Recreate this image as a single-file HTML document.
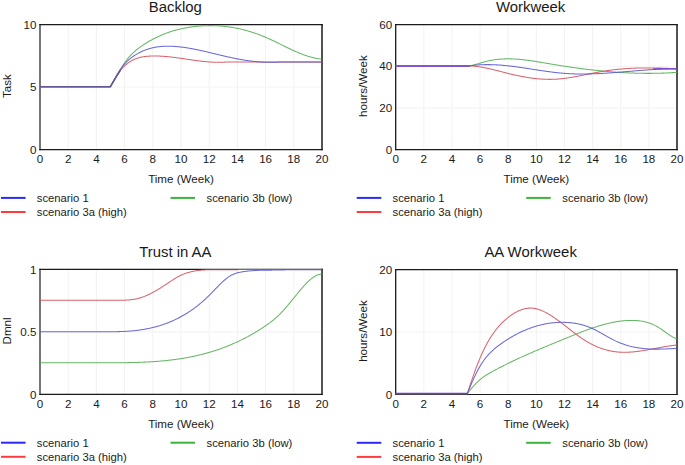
<!DOCTYPE html>
<html><head><meta charset="utf-8"><style>
html,body{margin:0;padding:0;background:#fff;}
svg{display:block;font-family:"Liberation Sans", sans-serif;}
text{stroke:none;}
</style></head><body>
<svg width="685" height="465" viewBox="0 0 685 465">
<rect width="685" height="465" fill="#fff"/>
<g stroke="#f3f3f3" stroke-width="1.1"><line x1="68.20" y1="24.55" x2="68.20" y2="149.6"/><line x1="96.40" y1="24.55" x2="96.40" y2="149.6"/><line x1="124.60" y1="24.55" x2="124.60" y2="149.6"/><line x1="152.80" y1="24.55" x2="152.80" y2="149.6"/><line x1="181.00" y1="24.55" x2="181.00" y2="149.6"/><line x1="209.20" y1="24.55" x2="209.20" y2="149.6"/><line x1="237.40" y1="24.55" x2="237.40" y2="149.6"/><line x1="265.60" y1="24.55" x2="265.60" y2="149.6"/><line x1="293.80" y1="24.55" x2="293.80" y2="149.6"/><line x1="40" y1="87.07" x2="322" y2="87.07"/></g>
<g stroke="#1a1a1a"><line x1="40" y1="23.95" x2="40" y2="150.2" stroke-width="1.2"/><line x1="322" y1="23.95" x2="322" y2="150.2" stroke-width="1.5"/><line x1="39.3" y1="24.55" x2="322.75" y2="24.55" stroke-width="1.2"/><line x1="39.3" y1="149.6" x2="322.75" y2="149.6" stroke-width="1.2"/></g>
<path d="M40,86.7 L110.4,86.7 L110.40,86.70 L110.93,85.84 L111.46,84.96 L111.99,84.07 L112.52,83.17 L113.04,82.27 L113.57,81.36 L114.10,80.44 L114.63,79.51 L115.16,78.59 L115.69,77.66 L116.22,76.73 L116.75,75.80 L117.27,74.87 L117.80,73.94 L118.33,73.02 L118.86,72.10 L119.39,71.19 L119.92,70.29 L120.45,69.40 L120.98,68.52 L121.51,67.65 L122.03,66.79 L122.56,65.95 L123.09,65.12 L123.62,64.31 L124.15,63.52 L124.68,62.74 L125.21,61.99 L125.74,61.26 L126.26,60.54 L126.79,59.85 L127.32,59.17 L127.85,58.51 L128.38,57.87 L128.91,57.25 L129.44,56.64 L129.97,56.05 L130.50,55.47 L131.02,54.91 L131.55,54.36 L132.08,53.83 L132.61,53.31 L133.14,52.80 L133.67,52.31 L134.20,51.83 L134.73,51.35 L135.25,50.90 L135.78,50.45 L136.31,50.01 L136.84,49.58 L137.37,49.16 L137.90,48.75 L138.43,48.34 L138.96,47.95 L139.49,47.56 L140.01,47.18 L140.54,46.80 L141.07,46.43 L141.60,46.06 L142.13,45.70 L142.66,45.35 L143.19,45.00 L143.72,44.65 L144.24,44.30 L144.77,43.96 L145.30,43.63 L145.83,43.29 L146.36,42.97 L146.89,42.64 L147.42,42.32 L147.95,42.00 L148.48,41.69 L149.00,41.38 L149.53,41.07 L150.06,40.77 L150.59,40.47 L151.12,40.18 L151.65,39.89 L152.18,39.60 L152.71,39.31 L153.23,39.03 L153.76,38.76 L154.29,38.48 L154.82,38.21 L155.35,37.95 L155.88,37.68 L156.41,37.42 L156.94,37.17 L157.47,36.92 L157.99,36.67 L158.52,36.42 L159.05,36.18 L159.58,35.94 L160.11,35.70 L160.64,35.47 L161.17,35.24 L161.70,35.02 L162.22,34.79 L162.75,34.57 L163.28,34.36 L163.81,34.15 L164.34,33.94 L164.87,33.73 L165.40,33.53 L165.93,33.32 L166.46,33.13 L166.98,32.93 L167.51,32.74 L168.04,32.55 L168.57,32.37 L169.10,32.19 L169.63,32.01 L170.16,31.83 L170.69,31.66 L171.21,31.49 L171.74,31.32 L172.27,31.15 L172.80,30.99 L173.33,30.83 L173.86,30.68 L174.39,30.52 L174.92,30.37 L175.45,30.22 L175.97,30.08 L176.50,29.94 L177.03,29.80 L177.56,29.66 L178.09,29.52 L178.62,29.39 L179.15,29.26 L179.68,29.14 L180.20,29.01 L180.73,28.89 L181.26,28.77 L181.79,28.65 L182.32,28.54 L182.85,28.43 L183.38,28.32 L183.91,28.21 L184.44,28.11 L184.96,28.01 L185.49,27.91 L186.02,27.81 L186.55,27.71 L187.08,27.62 L187.61,27.53 L188.14,27.44 L188.67,27.36 L189.19,27.27 L189.72,27.19 L190.25,27.11 L190.78,27.03 L191.31,26.96 L191.84,26.89 L192.37,26.81 L192.90,26.75 L193.43,26.68 L193.95,26.61 L194.48,26.55 L195.01,26.49 L195.54,26.43 L196.07,26.38 L196.60,26.32 L197.13,26.27 L197.66,26.22 L198.18,26.17 L198.71,26.12 L199.24,26.08 L199.77,26.04 L200.30,26.00 L200.83,25.96 L201.36,25.92 L201.89,25.89 L202.42,25.86 L202.94,25.83 L203.47,25.80 L204.00,25.77 L204.53,25.75 L205.06,25.73 L205.59,25.71 L206.12,25.69 L206.65,25.67 L207.17,25.66 L207.70,25.65 L208.23,25.64 L208.76,25.63 L209.29,25.63 L209.82,25.62 L210.35,25.62 L210.88,25.62 L211.41,25.63 L211.93,25.63 L212.46,25.64 L212.99,25.65 L213.52,25.66 L214.05,25.67 L214.58,25.69 L215.11,25.71 L215.64,25.73 L216.16,25.75 L216.69,25.77 L217.22,25.80 L217.75,25.83 L218.28,25.86 L218.81,25.89 L219.34,25.92 L219.87,25.96 L220.39,26.00 L220.92,26.04 L221.45,26.08 L221.98,26.13 L222.51,26.18 L223.04,26.23 L223.57,26.28 L224.10,26.33 L224.63,26.39 L225.15,26.45 L225.68,26.51 L226.21,26.57 L226.74,26.63 L227.27,26.70 L227.80,26.77 L228.33,26.84 L228.86,26.91 L229.38,26.99 L229.91,27.06 L230.44,27.14 L230.97,27.22 L231.50,27.31 L232.03,27.39 L232.56,27.48 L233.09,27.57 L233.62,27.66 L234.14,27.76 L234.67,27.85 L235.20,27.95 L235.73,28.05 L236.26,28.16 L236.79,28.26 L237.32,28.37 L237.85,28.48 L238.37,28.59 L238.90,28.70 L239.43,28.82 L239.96,28.94 L240.49,29.06 L241.02,29.18 L241.55,29.31 L242.08,29.43 L242.61,29.56 L243.13,29.69 L243.66,29.83 L244.19,29.96 L244.72,30.10 L245.25,30.24 L245.78,30.38 L246.31,30.53 L246.84,30.67 L247.36,30.82 L247.89,30.97 L248.42,31.13 L248.95,31.28 L249.48,31.44 L250.01,31.60 L250.54,31.76 L251.07,31.93 L251.60,32.09 L252.12,32.26 L252.65,32.43 L253.18,32.60 L253.71,32.78 L254.24,32.96 L254.77,33.14 L255.30,33.32 L255.83,33.50 L256.35,33.69 L256.88,33.88 L257.41,34.07 L257.94,34.26 L258.47,34.46 L259.00,34.66 L259.53,34.86 L260.06,35.06 L260.59,35.26 L261.11,35.47 L261.64,35.68 L262.17,35.89 L262.70,36.10 L263.23,36.32 L263.76,36.54 L264.29,36.76 L264.82,36.98 L265.34,37.20 L265.87,37.43 L266.40,37.66 L266.93,37.89 L267.46,38.12 L267.99,38.36 L268.52,38.59 L269.05,38.83 L269.58,39.07 L270.10,39.31 L270.63,39.56 L271.16,39.80 L271.69,40.05 L272.22,40.30 L272.75,40.54 L273.28,40.79 L273.81,41.05 L274.33,41.30 L274.86,41.55 L275.39,41.81 L275.92,42.06 L276.45,42.32 L276.98,42.57 L277.51,42.83 L278.04,43.09 L278.57,43.34 L279.09,43.60 L279.62,43.86 L280.15,44.12 L280.68,44.38 L281.21,44.64 L281.74,44.90 L282.27,45.16 L282.80,45.42 L283.32,45.68 L283.85,45.93 L284.38,46.19 L284.91,46.45 L285.44,46.71 L285.97,46.96 L286.50,47.22 L287.03,47.48 L287.56,47.73 L288.08,47.98 L288.61,48.24 L289.14,48.49 L289.67,48.74 L290.20,48.99 L290.73,49.24 L291.26,49.49 L291.79,49.73 L292.31,49.98 L292.84,50.22 L293.37,50.46 L293.90,50.70 L294.43,50.94 L294.96,51.17 L295.49,51.41 L296.02,51.64 L296.55,51.87 L297.07,52.10 L297.60,52.33 L298.13,52.55 L298.66,52.77 L299.19,52.99 L299.72,53.21 L300.25,53.42 L300.78,53.63 L301.30,53.84 L301.83,54.05 L302.36,54.25 L302.89,54.45 L303.42,54.65 L303.95,54.84 L304.48,55.04 L305.01,55.22 L305.54,55.41 L306.06,55.59 L306.59,55.77 L307.12,55.94 L307.65,56.12 L308.18,56.28 L308.71,56.45 L309.24,56.61 L309.77,56.76 L310.29,56.92 L310.82,57.07 L311.35,57.21 L311.88,57.35 L312.41,57.49 L312.94,57.62 L313.47,57.75 L314.00,57.87 L314.53,57.99 L315.05,58.10 L315.58,58.21 L316.11,58.32 L316.64,58.42 L317.17,58.51 L317.70,58.60 L318.23,58.69 L318.76,58.77 L319.28,58.84 L319.81,58.91 L320.34,58.98 L320.87,59.04 L321.40,59.09" fill="none" stroke="#56ae56" stroke-width="1.05" stroke-linejoin="round" opacity="0.9"/>
<path d="M40,86.7 L110.4,86.7 L110.40,86.70 L110.69,86.11 L110.97,85.53 L111.26,84.96 L111.55,84.39 L111.84,83.83 L112.12,83.28 L112.41,82.74 L112.70,82.20 L112.98,81.68 L113.27,81.16 L113.56,80.64 L113.85,80.14 L114.13,79.64 L114.42,79.15 L114.71,78.66 L115.00,78.18 L115.28,77.71 L115.57,77.25 L115.86,76.79 L116.14,76.34 L116.43,75.90 L116.72,75.47 L117.01,75.04 L117.29,74.61 L117.58,74.20 L117.87,73.79 L118.15,73.38 L118.44,72.99 L118.73,72.60 L119.02,72.21 L119.30,71.83 L119.59,71.46 L119.88,71.10 L120.17,70.74 L120.45,70.38 L120.74,70.03 L121.03,69.69 L121.31,69.36 L121.60,69.03 L121.89,68.70 L122.18,68.38 L122.46,68.07 L122.75,67.76 L123.04,67.46 L123.32,67.16 L123.61,66.87 L123.90,66.59 L124.19,66.30 L124.47,66.03 L124.76,65.76 L125.05,65.49 L125.34,65.23 L125.62,64.98 L125.91,64.73 L126.20,64.48 L126.48,64.24 L126.77,64.01 L127.06,63.78 L127.35,63.55 L127.63,63.33 L127.92,63.11 L128.21,62.90 L128.49,62.69 L128.78,62.49 L129.07,62.29 L129.36,62.10 L129.64,61.90 L129.93,61.72 L130.22,61.54 L130.51,61.36 L130.79,61.19 L131.08,61.02 L131.37,60.85 L131.65,60.69 L131.94,60.53 L132.23,60.38 L132.52,60.22 L132.80,60.08 L133.09,59.93 L133.38,59.80 L133.66,59.66 L133.95,59.53 L134.24,59.40 L134.53,59.27 L134.81,59.15 L135.10,59.03 L135.39,58.91 L135.68,58.80 L135.96,58.69 L136.25,58.58 L136.54,58.48 L136.82,58.38 L137.11,58.28 L137.40,58.19 L137.69,58.10 L137.97,58.01 L138.26,57.92 L138.55,57.83 L138.83,57.75 L139.12,57.67 L139.41,57.60 L139.70,57.52 L139.98,57.45 L140.27,57.38 L140.56,57.32 L140.85,57.25 L141.13,57.19 L141.42,57.13 L141.71,57.07 L141.99,57.01 L142.28,56.96 L142.57,56.90 L142.86,56.85 L143.14,56.80 L143.43,56.76 L143.72,56.71 L144.00,56.67 L144.29,56.62 L144.58,56.58 L144.87,56.55 L145.15,56.51 L145.44,56.47 L145.73,56.44 L146.02,56.41 L146.30,56.37 L146.59,56.34 L146.88,56.32 L147.16,56.29 L147.45,56.26 L147.74,56.24 L148.03,56.22 L148.31,56.20 L148.60,56.18 L148.89,56.16 L149.17,56.14 L149.46,56.12 L149.75,56.11 L150.04,56.09 L150.32,56.08 L150.61,56.07 L150.90,56.06 L151.18,56.05 L151.47,56.04 L151.76,56.03 L152.05,56.02 L152.33,56.01 L152.62,56.01 L152.91,56.00 L153.20,56.00 L153.48,55.99 L153.77,55.99 L154.06,55.99 L154.34,55.99 L154.63,55.99 L154.92,55.99 L155.21,55.99 L155.49,55.99 L155.78,56.00 L156.07,56.00 L156.35,56.00 L156.64,56.01 L156.93,56.01 L157.22,56.02 L157.50,56.03 L157.79,56.03 L158.08,56.04 L158.37,56.05 L158.65,56.06 L158.94,56.07 L159.23,56.08 L159.51,56.10 L159.80,56.11 L160.09,56.12 L160.38,56.14 L160.66,56.15 L160.95,56.16 L161.24,56.18 L161.52,56.20 L161.81,56.21 L162.10,56.23 L162.39,56.25 L162.67,56.27 L162.96,56.29 L163.25,56.31 L163.54,56.33 L163.82,56.35 L164.11,56.37 L164.40,56.39 L164.68,56.41 L164.97,56.44 L165.26,56.46 L165.55,56.48 L165.83,56.51 L166.12,56.53 L166.41,56.56 L166.69,56.58 L166.98,56.61 L167.27,56.64 L167.56,56.67 L167.84,56.69 L168.13,56.72 L168.42,56.75 L168.71,56.78 L168.99,56.81 L169.28,56.84 L169.57,56.87 L169.85,56.90 L170.14,56.93 L170.43,56.96 L170.72,56.99 L171.00,57.03 L171.29,57.06 L171.58,57.09 L171.86,57.13 L172.15,57.16 L172.44,57.19 L172.73,57.23 L173.01,57.26 L173.30,57.30 L173.59,57.33 L173.88,57.37 L174.16,57.41 L174.45,57.44 L174.74,57.48 L175.02,57.52 L175.31,57.55 L175.60,57.59 L175.89,57.63 L176.17,57.67 L176.46,57.71 L176.75,57.74 L177.03,57.78 L177.32,57.82 L177.61,57.86 L177.90,57.90 L178.18,57.94 L178.47,57.98 L178.76,58.02 L179.05,58.06 L179.33,58.10 L179.62,58.14 L179.91,58.18 L180.19,58.22 L180.48,58.26 L180.77,58.31 L181.06,58.35 L181.34,58.39 L181.63,58.43 L181.92,58.47 L182.20,58.51 L182.49,58.55 L182.78,58.60 L183.07,58.64 L183.35,58.68 L183.64,58.72 L183.93,58.77 L184.22,58.81 L184.50,58.85 L184.79,58.89 L185.08,58.94 L185.36,58.98 L185.65,59.02 L185.94,59.06 L186.23,59.11 L186.51,59.15 L186.80,59.19 L187.09,59.23 L187.37,59.28 L187.66,59.32 L187.95,59.36 L188.24,59.40 L188.52,59.45 L188.81,59.49 L189.10,59.53 L189.38,59.57 L189.67,59.62 L189.96,59.66 L190.25,59.70 L190.53,59.74 L190.82,59.78 L191.11,59.83 L191.40,59.87 L191.68,59.91 L191.97,59.95 L192.26,59.99 L192.54,60.03 L192.83,60.07 L193.12,60.12 L193.41,60.16 L193.69,60.20 L193.98,60.24 L194.27,60.28 L194.55,60.32 L194.84,60.36 L195.13,60.40 L195.42,60.44 L195.70,60.48 L195.99,60.51 L196.28,60.55 L196.57,60.59 L196.85,60.63 L197.14,60.67 L197.43,60.71 L197.71,60.74 L198.00,60.78 L198.29,60.82 L198.58,60.85 L198.86,60.89 L199.15,60.93 L199.44,60.96 L199.72,61.00 L200.01,61.03 L200.30,61.07 L200.59,61.10 L200.87,61.14 L201.16,61.17 L201.45,61.20 L201.74,61.24 L202.02,61.27 L202.31,61.30 L202.60,61.33 L202.88,61.37 L203.17,61.40 L203.46,61.43 L203.75,61.46 L204.03,61.49 L204.32,61.52 L204.61,61.55 L204.89,61.58 L205.18,61.60 L205.47,61.63 L205.76,61.66 L206.04,61.69 L206.33,61.71 L206.62,61.74 L206.91,61.76 L207.19,61.79 L207.48,61.81 L207.77,61.84 L208.05,61.86 L208.34,61.88 L208.63,61.91 L208.92,61.93 L209.20,61.95 L209.49,61.97 L209.78,61.99 L210.06,62.01 L210.35,62.03 L210.64,62.05 L210.93,62.07 L211.21,62.08 L211.50,62.10 L211.79,62.12 L212.08,62.13 L212.36,62.15 L212.65,62.16 L212.94,62.17 L213.22,62.19 L213.51,62.20 L213.80,62.21 L214.09,62.22 L214.37,62.23 L214.66,62.24 L214.95,62.25 L215.23,62.26 L215.52,62.27 L215.81,62.28 L216.10,62.28 L216.38,62.29 L216.67,62.29 L216.96,62.30 L217.25,62.30 L217.53,62.30 L217.82,62.30 L218.11,62.31 L218.39,62.31 L218.68,62.31 L218.97,62.31 L219.26,62.30 L219.54,62.30 L219.83,62.30 L220.12,62.29 L220.40,62.29 L220.69,62.28 L220.98,62.28 L221.27,62.27 L221.55,62.26 L221.84,62.25 L222.13,62.24 L222.42,62.23 L222.70,62.22 L222.99,62.20 L223.28,62.19 L223.56,62.18 L223.85,62.16 L224.14,62.15 L224.43,62.13 L224.71,62.11 L225.00,62.09 L321.4,62.0" fill="none" stroke="#d6525c" stroke-width="1.05" stroke-linejoin="round" opacity="0.9"/>
<path d="M40,86.7 L110.4,86.7 L110.40,86.70 L110.83,86.00 L111.25,85.29 L111.68,84.57 L112.10,83.84 L112.53,83.11 L112.95,82.36 L113.38,81.61 L113.80,80.85 L114.23,80.10 L114.65,79.34 L115.08,78.57 L115.50,77.82 L115.93,77.06 L116.35,76.30 L116.78,75.55 L117.20,74.81 L117.63,74.08 L118.05,73.35 L118.48,72.63 L118.90,71.93 L119.33,71.24 L119.75,70.56 L120.18,69.90 L120.60,69.25 L121.03,68.62 L121.45,68.01 L121.88,67.42 L122.30,66.84 L122.73,66.28 L123.15,65.73 L123.58,65.20 L124.00,64.69 L124.43,64.19 L124.85,63.70 L125.28,63.23 L125.70,62.77 L126.13,62.32 L126.55,61.88 L126.98,61.46 L127.40,61.05 L127.83,60.65 L128.25,60.26 L128.68,59.88 L129.10,59.51 L129.53,59.15 L129.95,58.80 L130.38,58.46 L130.80,58.13 L131.23,57.80 L131.65,57.48 L132.08,57.17 L132.50,56.87 L132.93,56.57 L133.35,56.28 L133.78,55.99 L134.20,55.71 L134.63,55.43 L135.05,55.16 L135.48,54.89 L135.90,54.63 L136.33,54.37 L136.75,54.12 L137.18,53.87 L137.60,53.63 L138.03,53.39 L138.45,53.16 L138.88,52.93 L139.30,52.71 L139.73,52.49 L140.15,52.27 L140.58,52.06 L141.00,51.85 L141.43,51.65 L141.85,51.45 L142.28,51.26 L142.70,51.07 L143.13,50.89 L143.55,50.71 L143.98,50.53 L144.41,50.36 L144.83,50.19 L145.26,50.03 L145.68,49.87 L146.11,49.71 L146.53,49.56 L146.96,49.41 L147.38,49.27 L147.81,49.13 L148.23,48.99 L148.66,48.86 L149.08,48.73 L149.51,48.60 L149.93,48.48 L150.36,48.36 L150.78,48.25 L151.21,48.14 L151.63,48.03 L152.06,47.93 L152.48,47.83 L152.91,47.73 L153.33,47.64 L153.76,47.54 L154.18,47.46 L154.61,47.37 L155.03,47.29 L155.46,47.22 L155.88,47.14 L156.31,47.07 L156.73,47.00 L157.16,46.94 L157.58,46.87 L158.01,46.82 L158.43,46.76 L158.86,46.71 L159.28,46.65 L159.71,46.61 L160.13,46.56 L160.56,46.52 L160.98,46.48 L161.41,46.44 L161.83,46.41 L162.26,46.38 L162.68,46.35 L163.11,46.32 L163.53,46.30 L163.96,46.28 L164.38,46.26 L164.81,46.24 L165.23,46.22 L165.66,46.21 L166.08,46.20 L166.51,46.19 L166.93,46.19 L167.36,46.18 L167.78,46.18 L168.21,46.18 L168.63,46.19 L169.06,46.19 L169.48,46.20 L169.91,46.21 L170.33,46.22 L170.76,46.23 L171.18,46.24 L171.61,46.26 L172.03,46.28 L172.46,46.29 L172.88,46.32 L173.31,46.34 L173.73,46.36 L174.16,46.39 L174.58,46.42 L175.01,46.44 L175.43,46.47 L175.86,46.51 L176.28,46.54 L176.71,46.58 L177.13,46.61 L177.56,46.65 L177.98,46.69 L178.41,46.73 L178.84,46.77 L179.26,46.82 L179.69,46.86 L180.11,46.91 L180.54,46.96 L180.96,47.01 L181.39,47.06 L181.81,47.11 L182.24,47.16 L182.66,47.22 L183.09,47.27 L183.51,47.33 L183.94,47.39 L184.36,47.45 L184.79,47.51 L185.21,47.57 L185.64,47.63 L186.06,47.70 L186.49,47.76 L186.91,47.83 L187.34,47.90 L187.76,47.96 L188.19,48.03 L188.61,48.11 L189.04,48.18 L189.46,48.25 L189.89,48.32 L190.31,48.40 L190.74,48.47 L191.16,48.55 L191.59,48.63 L192.01,48.71 L192.44,48.79 L192.86,48.87 L193.29,48.95 L193.71,49.03 L194.14,49.11 L194.56,49.20 L194.99,49.28 L195.41,49.37 L195.84,49.45 L196.26,49.54 L196.69,49.63 L197.11,49.71 L197.54,49.80 L197.96,49.89 L198.39,49.98 L198.81,50.07 L199.24,50.16 L199.66,50.26 L200.09,50.35 L200.51,50.44 L200.94,50.54 L201.36,50.63 L201.79,50.73 L202.21,50.82 L202.64,50.92 L203.06,51.01 L203.49,51.11 L203.91,51.21 L204.34,51.30 L204.76,51.40 L205.19,51.50 L205.61,51.60 L206.04,51.70 L206.46,51.80 L206.89,51.90 L207.31,52.00 L207.74,52.10 L208.16,52.20 L208.59,52.30 L209.01,52.40 L209.44,52.50 L209.86,52.61 L210.29,52.71 L210.71,52.81 L211.14,52.91 L211.56,53.01 L211.99,53.12 L212.42,53.22 L212.84,53.32 L213.27,53.43 L213.69,53.53 L214.12,53.63 L214.54,53.73 L214.97,53.84 L215.39,53.94 L215.82,54.04 L216.24,54.15 L216.67,54.25 L217.09,54.35 L217.52,54.45 L217.94,54.56 L218.37,54.66 L218.79,54.76 L219.22,54.86 L219.64,54.97 L220.07,55.07 L220.49,55.17 L220.92,55.27 L221.34,55.37 L221.77,55.47 L222.19,55.57 L222.62,55.67 L223.04,55.77 L223.47,55.87 L223.89,55.97 L224.32,56.07 L224.74,56.17 L225.17,56.27 L225.59,56.37 L226.02,56.46 L226.44,56.56 L226.87,56.66 L227.29,56.75 L227.72,56.85 L228.14,56.94 L228.57,57.04 L228.99,57.13 L229.42,57.23 L229.84,57.32 L230.27,57.41 L230.69,57.50 L231.12,57.59 L231.54,57.68 L231.97,57.77 L232.39,57.86 L232.82,57.95 L233.24,58.04 L233.67,58.13 L234.09,58.21 L234.52,58.30 L234.94,58.38 L235.37,58.47 L235.79,58.55 L236.22,58.64 L236.64,58.72 L237.07,58.80 L237.49,58.88 L237.92,58.96 L238.34,59.04 L238.77,59.12 L239.19,59.20 L239.62,59.28 L240.04,59.35 L240.47,59.43 L240.89,59.51 L241.32,59.58 L241.74,59.65 L242.17,59.73 L242.59,59.80 L243.02,59.87 L243.44,59.94 L243.87,60.01 L244.29,60.08 L244.72,60.15 L245.14,60.21 L245.57,60.28 L245.99,60.35 L246.42,60.41 L246.85,60.47 L247.27,60.54 L247.70,60.60 L248.12,60.66 L248.55,60.72 L248.97,60.78 L249.40,60.83 L249.82,60.89 L250.25,60.95 L250.67,61.00 L251.10,61.06 L251.52,61.11 L251.95,61.16 L252.37,61.21 L252.80,61.26 L253.22,61.31 L253.65,61.36 L254.07,61.41 L254.50,61.45 L254.92,61.50 L255.35,61.54 L255.77,61.58 L256.20,61.63 L256.62,61.67 L257.05,61.71 L257.47,61.74 L257.90,61.78 L258.32,61.82 L258.75,61.85 L259.17,61.89 L259.60,61.92 L260.02,61.95 L260.45,61.98 L260.87,62.01 L261.30,62.04 L261.72,62.07 L262.15,62.09 L262.57,62.12 L263.00,62.14 L263.42,62.16 L263.85,62.18 L264.27,62.20 L264.70,62.22 L265.12,62.24 L265.55,62.25 L265.97,62.27 L266.40,62.28 L266.82,62.29 L267.25,62.30 L267.67,62.31 L268.10,62.32 L268.52,62.33 L268.95,62.33 L269.37,62.34 L269.80,62.34 L270.22,62.34 L270.65,62.34 L271.07,62.34 L271.50,62.34 L271.92,62.33 L272.35,62.33 L272.77,62.32 L273.20,62.31 L273.62,62.30 L274.05,62.29 L274.47,62.28 L274.90,62.26 L275.32,62.25 L275.75,62.23 L276.17,62.21 L276.60,62.19 L277.02,62.17 L277.45,62.15 L277.87,62.13 L278.30,62.10 L278.72,62.07 L279.15,62.04 L279.57,62.01 L280.00,61.98 L321.4,62.0" fill="none" stroke="#5a5ad4" stroke-width="1.05" stroke-linejoin="round" opacity="0.9"/>
<path d="M40,86.7 L110.4,86.7 L115.1,78.6 L120.5,70.0" fill="none" stroke="#65559a" stroke-width="1.5" stroke-linejoin="round"/>
<g font-size="11.6" fill="#1a1a1a"><text x="40.00" y="162.90" text-anchor="middle">0</text><text x="68.20" y="162.90" text-anchor="middle">2</text><text x="96.40" y="162.90" text-anchor="middle">4</text><text x="124.60" y="162.90" text-anchor="middle">6</text><text x="152.80" y="162.90" text-anchor="middle">8</text><text x="181.00" y="162.90" text-anchor="middle">10</text><text x="209.20" y="162.90" text-anchor="middle">12</text><text x="237.40" y="162.90" text-anchor="middle">14</text><text x="265.60" y="162.90" text-anchor="middle">16</text><text x="293.80" y="162.90" text-anchor="middle">18</text><text x="322.00" y="162.90" text-anchor="middle">20</text><text x="36.40" y="153.80" text-anchor="end">0</text><text x="36.40" y="91.27" text-anchor="end">5</text><text x="36.40" y="28.75" text-anchor="end">10</text></g>
<text x="181.00" y="182.90" text-anchor="middle" font-size="11.6" fill="#1a1a1a">Time (Week)</text>
<text transform="translate(11.20,86.08) rotate(-90)" text-anchor="middle" font-size="11.6" fill="#1a1a1a">Task</text>
<text x="175.30" y="11.95" text-anchor="middle" font-size="14.9" fill="#1a1a1a">Backlog</text>
<g font-size="11.25" fill="#1a1a1a"><line x1="1.00" y1="197.90" x2="25.60" y2="197.90" stroke="#2a2aff" stroke-width="2"/><line x1="1.00" y1="212.00" x2="25.60" y2="212.00" stroke="#ff3c3c" stroke-width="2"/><line x1="170.50" y1="197.90" x2="195.00" y2="197.90" stroke="#3cb43c" stroke-width="2"/><text x="36.80" y="202.10">scenario 1</text><text x="36.80" y="216.20">scenario 3a (high)</text><text x="206.60" y="202.10">scenario 3b (low)</text></g>
<g stroke="#f3f3f3" stroke-width="1.1"><line x1="423.83" y1="24.55" x2="423.83" y2="149.6"/><line x1="451.96" y1="24.55" x2="451.96" y2="149.6"/><line x1="480.09" y1="24.55" x2="480.09" y2="149.6"/><line x1="508.22" y1="24.55" x2="508.22" y2="149.6"/><line x1="536.35" y1="24.55" x2="536.35" y2="149.6"/><line x1="564.48" y1="24.55" x2="564.48" y2="149.6"/><line x1="592.61" y1="24.55" x2="592.61" y2="149.6"/><line x1="620.74" y1="24.55" x2="620.74" y2="149.6"/><line x1="648.87" y1="24.55" x2="648.87" y2="149.6"/><line x1="395.7" y1="107.92" x2="677" y2="107.92"/><line x1="395.7" y1="66.23" x2="677" y2="66.23"/></g>
<g stroke="#1a1a1a"><line x1="395.7" y1="23.95" x2="395.7" y2="150.2" stroke-width="1.3"/><line x1="677" y1="23.95" x2="677" y2="150.2" stroke-width="1.5"/><line x1="395.0" y1="24.55" x2="677.75" y2="24.55" stroke-width="1.2"/><line x1="395.0" y1="149.6" x2="677.75" y2="149.6" stroke-width="1.2"/></g>
<path d="M395.7,65.9 L469.6,65.9 L469.60,65.90 L470.12,65.79 L470.64,65.68 L471.16,65.57 L471.68,65.45 L472.20,65.33 L472.72,65.20 L473.24,65.07 L473.76,64.93 L474.28,64.80 L474.80,64.66 L475.32,64.52 L475.84,64.37 L476.36,64.22 L476.88,64.08 L477.40,63.93 L477.92,63.78 L478.44,63.63 L478.96,63.47 L479.48,63.32 L480.00,63.17 L480.52,63.02 L481.04,62.86 L481.56,62.71 L482.08,62.56 L482.59,62.41 L483.11,62.26 L483.63,62.11 L484.15,61.97 L484.67,61.83 L485.19,61.69 L485.71,61.55 L486.23,61.41 L486.75,61.28 L487.27,61.15 L487.79,61.03 L488.31,60.91 L488.83,60.79 L489.35,60.68 L489.87,60.57 L490.39,60.46 L490.91,60.36 L491.43,60.26 L491.95,60.17 L492.47,60.07 L492.99,59.99 L493.51,59.90 L494.03,59.82 L494.55,59.75 L495.07,59.67 L495.59,59.60 L496.11,59.54 L496.63,59.47 L497.15,59.41 L497.67,59.36 L498.19,59.30 L498.71,59.25 L499.23,59.21 L499.75,59.16 L500.27,59.12 L500.79,59.08 L501.31,59.05 L501.83,59.01 L502.35,58.98 L502.87,58.96 L503.39,58.93 L503.91,58.91 L504.43,58.89 L504.95,58.88 L505.47,58.86 L505.99,58.85 L506.51,58.85 L507.03,58.84 L507.55,58.84 L508.07,58.84 L508.58,58.84 L509.10,58.84 L509.62,58.85 L510.14,58.86 L510.66,58.87 L511.18,58.88 L511.70,58.90 L512.22,58.92 L512.74,58.94 L513.26,58.96 L513.78,58.98 L514.30,59.01 L514.82,59.04 L515.34,59.07 L515.86,59.10 L516.38,59.13 L516.90,59.17 L517.42,59.21 L517.94,59.25 L518.46,59.29 L518.98,59.33 L519.50,59.38 L520.02,59.42 L520.54,59.47 L521.06,59.52 L521.58,59.58 L522.10,59.63 L522.62,59.68 L523.14,59.74 L523.66,59.80 L524.18,59.86 L524.70,59.92 L525.22,59.98 L525.74,60.04 L526.26,60.11 L526.78,60.17 L527.30,60.24 L527.82,60.31 L528.34,60.38 L528.86,60.45 L529.38,60.52 L529.90,60.59 L530.42,60.67 L530.94,60.74 L531.46,60.82 L531.98,60.89 L532.50,60.97 L533.02,61.05 L533.54,61.13 L534.06,61.21 L534.57,61.29 L535.09,61.37 L535.61,61.45 L536.13,61.54 L536.65,61.62 L537.17,61.70 L537.69,61.79 L538.21,61.87 L538.73,61.96 L539.25,62.05 L539.77,62.13 L540.29,62.22 L540.81,62.31 L541.33,62.39 L541.85,62.48 L542.37,62.57 L542.89,62.66 L543.41,62.75 L543.93,62.84 L544.45,62.92 L544.97,63.01 L545.49,63.10 L546.01,63.19 L546.53,63.28 L547.05,63.37 L547.57,63.46 L548.09,63.55 L548.61,63.64 L549.13,63.72 L549.65,63.81 L550.17,63.90 L550.69,63.99 L551.21,64.08 L551.73,64.16 L552.25,64.25 L552.77,64.34 L553.29,64.42 L553.81,64.51 L554.33,64.59 L554.85,64.68 L555.37,64.76 L555.89,64.85 L556.41,64.93 L556.93,65.02 L557.45,65.10 L557.97,65.19 L558.49,65.27 L559.01,65.35 L559.53,65.44 L560.05,65.52 L560.56,65.60 L561.08,65.68 L561.60,65.76 L562.12,65.84 L562.64,65.93 L563.16,66.01 L563.68,66.09 L564.20,66.17 L564.72,66.25 L565.24,66.33 L565.76,66.40 L566.28,66.48 L566.80,66.56 L567.32,66.64 L567.84,66.72 L568.36,66.79 L568.88,66.87 L569.40,66.95 L569.92,67.02 L570.44,67.10 L570.96,67.18 L571.48,67.25 L572.00,67.33 L572.52,67.40 L573.04,67.47 L573.56,67.55 L574.08,67.62 L574.60,67.70 L575.12,67.77 L575.64,67.84 L576.16,67.91 L576.68,67.98 L577.20,68.06 L577.72,68.13 L578.24,68.20 L578.76,68.27 L579.28,68.34 L579.80,68.41 L580.32,68.47 L580.84,68.54 L581.36,68.61 L581.88,68.68 L582.40,68.75 L582.92,68.81 L583.44,68.88 L583.96,68.95 L584.48,69.01 L585.00,69.08 L585.52,69.14 L586.04,69.21 L586.55,69.27 L587.07,69.33 L587.59,69.40 L588.11,69.46 L588.63,69.52 L589.15,69.59 L589.67,69.65 L590.19,69.71 L590.71,69.77 L591.23,69.83 L591.75,69.89 L592.27,69.95 L592.79,70.01 L593.31,70.07 L593.83,70.12 L594.35,70.18 L594.87,70.24 L595.39,70.30 L595.91,70.35 L596.43,70.41 L596.95,70.46 L597.47,70.52 L597.99,70.57 L598.51,70.63 L599.03,70.68 L599.55,70.73 L600.07,70.79 L600.59,70.84 L601.11,70.89 L601.63,70.94 L602.15,70.99 L602.67,71.04 L603.19,71.09 L603.71,71.14 L604.23,71.19 L604.75,71.24 L605.27,71.29 L605.79,71.34 L606.31,71.38 L606.83,71.43 L607.35,71.47 L607.87,71.52 L608.39,71.57 L608.91,71.61 L609.43,71.65 L609.95,71.70 L610.47,71.74 L610.99,71.78 L611.51,71.82 L612.03,71.87 L612.54,71.91 L613.06,71.95 L613.58,71.99 L614.10,72.03 L614.62,72.07 L615.14,72.10 L615.66,72.14 L616.18,72.18 L616.70,72.22 L617.22,72.25 L617.74,72.29 L618.26,72.32 L618.78,72.36 L619.30,72.39 L619.82,72.42 L620.34,72.46 L620.86,72.49 L621.38,72.52 L621.90,72.55 L622.42,72.58 L622.94,72.61 L623.46,72.64 L623.98,72.67 L624.50,72.70 L625.02,72.73 L625.54,72.76 L626.06,72.78 L626.58,72.81 L627.10,72.84 L627.62,72.86 L628.14,72.88 L628.66,72.91 L629.18,72.93 L629.70,72.95 L630.22,72.98 L630.74,73.00 L631.26,73.02 L631.78,73.04 L632.30,73.06 L632.82,73.08 L633.34,73.10 L633.86,73.12 L634.38,73.13 L634.90,73.15 L635.42,73.17 L635.94,73.18 L636.46,73.20 L636.98,73.21 L637.50,73.23 L638.02,73.24 L638.53,73.25 L639.05,73.26 L639.57,73.27 L640.09,73.28 L640.61,73.29 L641.13,73.30 L641.65,73.31 L642.17,73.32 L642.69,73.33 L643.21,73.34 L643.73,73.34 L644.25,73.35 L644.77,73.35 L645.29,73.36 L645.81,73.36 L646.33,73.36 L646.85,73.37 L647.37,73.37 L647.89,73.37 L648.41,73.37 L648.93,73.37 L649.45,73.37 L649.97,73.37 L650.49,73.36 L651.01,73.36 L651.53,73.36 L652.05,73.35 L652.57,73.35 L653.09,73.34 L653.61,73.34 L654.13,73.33 L654.65,73.32 L655.17,73.31 L655.69,73.30 L656.21,73.30 L656.73,73.28 L657.25,73.27 L657.77,73.26 L658.29,73.25 L658.81,73.24 L659.33,73.22 L659.85,73.21 L660.37,73.19 L660.89,73.18 L661.41,73.16 L661.93,73.14 L662.45,73.12 L662.97,73.11 L663.49,73.09 L664.01,73.07 L664.52,73.05 L665.04,73.02 L665.56,73.00 L666.08,72.98 L666.60,72.95 L667.12,72.93 L667.64,72.90 L668.16,72.88 L668.68,72.85 L669.20,72.82 L669.72,72.80 L670.24,72.77 L670.76,72.74 L671.28,72.71 L671.80,72.67 L672.32,72.64 L672.84,72.61 L673.36,72.58 L673.88,72.54 L674.40,72.51 L674.92,72.47 L675.44,72.43 L675.96,72.40 L676.48,72.36 L677.00,72.32" fill="none" stroke="#56ae56" stroke-width="1.05" stroke-linejoin="round" opacity="0.9"/>
<path d="M395.7,65.9 L469.6,65.9 L469.60,65.90 L470.12,65.92 L470.64,65.94 L471.16,65.96 L471.68,65.99 L472.20,66.03 L472.72,66.06 L473.24,66.10 L473.76,66.15 L474.28,66.19 L474.80,66.24 L475.32,66.30 L475.84,66.35 L476.36,66.41 L476.88,66.48 L477.40,66.54 L477.92,66.61 L478.44,66.68 L478.96,66.76 L479.48,66.83 L480.00,66.91 L480.52,67.00 L481.04,67.08 L481.56,67.17 L482.08,67.26 L482.59,67.35 L483.11,67.44 L483.63,67.54 L484.15,67.64 L484.67,67.74 L485.19,67.84 L485.71,67.95 L486.23,68.05 L486.75,68.16 L487.27,68.27 L487.79,68.38 L488.31,68.50 L488.83,68.61 L489.35,68.73 L489.87,68.85 L490.39,68.96 L490.91,69.09 L491.43,69.21 L491.95,69.33 L492.47,69.46 L492.99,69.58 L493.51,69.71 L494.03,69.83 L494.55,69.96 L495.07,70.09 L495.59,70.22 L496.11,70.35 L496.63,70.48 L497.15,70.61 L497.67,70.75 L498.19,70.88 L498.71,71.01 L499.23,71.14 L499.75,71.28 L500.27,71.41 L500.79,71.55 L501.31,71.68 L501.83,71.81 L502.35,71.95 L502.87,72.08 L503.39,72.21 L503.91,72.35 L504.43,72.48 L504.95,72.61 L505.47,72.74 L505.99,72.88 L506.51,73.01 L507.03,73.14 L507.55,73.27 L508.07,73.40 L508.58,73.52 L509.10,73.65 L509.62,73.78 L510.14,73.90 L510.66,74.03 L511.18,74.15 L511.70,74.27 L512.22,74.40 L512.74,74.52 L513.26,74.64 L513.78,74.75 L514.30,74.87 L514.82,74.99 L515.34,75.10 L515.86,75.22 L516.38,75.33 L516.90,75.44 L517.42,75.56 L517.94,75.66 L518.46,75.77 L518.98,75.88 L519.50,75.99 L520.02,76.09 L520.54,76.20 L521.06,76.30 L521.58,76.40 L522.10,76.50 L522.62,76.60 L523.14,76.69 L523.66,76.79 L524.18,76.88 L524.70,76.98 L525.22,77.07 L525.74,77.16 L526.26,77.25 L526.78,77.33 L527.30,77.42 L527.82,77.50 L528.34,77.58 L528.86,77.66 L529.38,77.74 L529.90,77.82 L530.42,77.90 L530.94,77.97 L531.46,78.04 L531.98,78.11 L532.50,78.18 L533.02,78.25 L533.54,78.31 L534.06,78.38 L534.57,78.44 L535.09,78.50 L535.61,78.56 L536.13,78.61 L536.65,78.67 L537.17,78.72 L537.69,78.77 L538.21,78.82 L538.73,78.87 L539.25,78.91 L539.77,78.95 L540.29,78.99 L540.81,79.03 L541.33,79.07 L541.85,79.10 L542.37,79.14 L542.89,79.17 L543.41,79.20 L543.93,79.22 L544.45,79.24 L544.97,79.27 L545.49,79.29 L546.01,79.30 L546.53,79.32 L547.05,79.33 L547.57,79.34 L548.09,79.35 L548.61,79.35 L549.13,79.36 L549.65,79.36 L550.17,79.36 L550.69,79.35 L551.21,79.35 L551.73,79.34 L552.25,79.33 L552.77,79.31 L553.29,79.30 L553.81,79.28 L554.33,79.26 L554.85,79.23 L555.37,79.21 L555.89,79.18 L556.41,79.15 L556.93,79.11 L557.45,79.08 L557.97,79.04 L558.49,79.00 L559.01,78.95 L559.53,78.91 L560.05,78.86 L560.56,78.81 L561.08,78.76 L561.60,78.70 L562.12,78.64 L562.64,78.59 L563.16,78.53 L563.68,78.46 L564.20,78.40 L564.72,78.33 L565.24,78.26 L565.76,78.19 L566.28,78.12 L566.80,78.05 L567.32,77.98 L567.84,77.90 L568.36,77.82 L568.88,77.74 L569.40,77.66 L569.92,77.58 L570.44,77.49 L570.96,77.41 L571.48,77.32 L572.00,77.24 L572.52,77.15 L573.04,77.06 L573.56,76.96 L574.08,76.87 L574.60,76.78 L575.12,76.68 L575.64,76.59 L576.16,76.49 L576.68,76.40 L577.20,76.30 L577.72,76.20 L578.24,76.10 L578.76,76.00 L579.28,75.90 L579.80,75.80 L580.32,75.69 L580.84,75.59 L581.36,75.49 L581.88,75.39 L582.40,75.28 L582.92,75.18 L583.44,75.07 L583.96,74.97 L584.48,74.86 L585.00,74.76 L585.52,74.65 L586.04,74.54 L586.55,74.44 L587.07,74.33 L587.59,74.23 L588.11,74.12 L588.63,74.01 L589.15,73.91 L589.67,73.80 L590.19,73.70 L590.71,73.59 L591.23,73.49 L591.75,73.38 L592.27,73.28 L592.79,73.18 L593.31,73.07 L593.83,72.97 L594.35,72.87 L594.87,72.77 L595.39,72.66 L595.91,72.56 L596.43,72.46 L596.95,72.37 L597.47,72.27 L597.99,72.17 L598.51,72.07 L599.03,71.98 L599.55,71.88 L600.07,71.79 L600.59,71.70 L601.11,71.61 L601.63,71.52 L602.15,71.43 L602.67,71.34 L603.19,71.25 L603.71,71.17 L604.23,71.08 L604.75,71.00 L605.27,70.92 L605.79,70.84 L606.31,70.76 L606.83,70.68 L607.35,70.61 L607.87,70.53 L608.39,70.46 L608.91,70.38 L609.43,70.31 L609.95,70.24 L610.47,70.17 L610.99,70.11 L611.51,70.04 L612.03,69.97 L612.54,69.91 L613.06,69.85 L613.58,69.78 L614.10,69.72 L614.62,69.66 L615.14,69.60 L615.66,69.55 L616.18,69.49 L616.70,69.43 L617.22,69.38 L617.74,69.33 L618.26,69.28 L618.78,69.22 L619.30,69.18 L619.82,69.13 L620.34,69.08 L620.86,69.03 L621.38,68.99 L621.90,68.94 L622.42,68.90 L622.94,68.86 L623.46,68.81 L623.98,68.77 L624.50,68.74 L625.02,68.70 L625.54,68.66 L626.06,68.62 L626.58,68.59 L627.10,68.55 L627.62,68.52 L628.14,68.49 L628.66,68.46 L629.18,68.43 L629.70,68.40 L630.22,68.37 L630.74,68.34 L631.26,68.31 L631.78,68.29 L632.30,68.26 L632.82,68.24 L633.34,68.22 L633.86,68.19 L634.38,68.17 L634.90,68.15 L635.42,68.13 L635.94,68.11 L636.46,68.10 L636.98,68.08 L637.50,68.06 L638.02,68.05 L638.53,68.03 L639.05,68.02 L639.57,68.01 L640.09,68.00 L640.61,67.99 L641.13,67.98 L641.65,67.97 L642.17,67.96 L642.69,67.95 L643.21,67.94 L643.73,67.94 L644.25,67.93 L644.77,67.93 L645.29,67.92 L645.81,67.92 L646.33,67.92 L646.85,67.91 L647.37,67.91 L647.89,67.91 L648.41,67.91 L648.93,67.91 L649.45,67.92 L649.97,67.92 L650.49,67.92 L651.01,67.93 L651.53,67.93 L652.05,67.94 L652.57,67.94 L653.09,67.95 L653.61,67.96 L654.13,67.96 L654.65,67.97 L655.17,67.98 L655.69,67.99 L656.21,68.00 L656.73,68.01 L657.25,68.02 L657.77,68.04 L658.29,68.05 L658.81,68.06 L659.33,68.08 L659.85,68.09 L660.37,68.11 L660.89,68.12 L661.41,68.14 L661.93,68.15 L662.45,68.17 L662.97,68.19 L663.49,68.21 L664.01,68.23 L664.52,68.24 L665.04,68.26 L665.56,68.29 L666.08,68.31 L666.60,68.33 L667.12,68.35 L667.64,68.37 L668.16,68.39 L668.68,68.42 L669.20,68.44 L669.72,68.46 L670.24,68.49 L670.76,68.51 L671.28,68.54 L671.80,68.56 L672.32,68.59 L672.84,68.62 L673.36,68.64 L673.88,68.67 L674.40,68.70 L674.92,68.73 L675.44,68.76 L675.96,68.78 L676.48,68.81 L677.00,68.84" fill="none" stroke="#d6525c" stroke-width="1.05" stroke-linejoin="round" opacity="0.9"/>
<path d="M395.7,65.9 L469.6,65.9 L469.60,65.90 L470.12,65.82 L470.64,65.75 L471.16,65.67 L471.68,65.60 L472.20,65.54 L472.72,65.47 L473.24,65.41 L473.76,65.35 L474.28,65.29 L474.80,65.24 L475.32,65.19 L475.84,65.14 L476.36,65.09 L476.88,65.05 L477.40,65.00 L477.92,64.96 L478.44,64.92 L478.96,64.89 L479.48,64.85 L480.00,64.82 L480.52,64.79 L481.04,64.77 L481.56,64.74 L482.08,64.72 L482.59,64.70 L483.11,64.68 L483.63,64.66 L484.15,64.65 L484.67,64.64 L485.19,64.63 L485.71,64.62 L486.23,64.61 L486.75,64.61 L487.27,64.60 L487.79,64.60 L488.31,64.60 L488.83,64.61 L489.35,64.61 L489.87,64.62 L490.39,64.63 L490.91,64.64 L491.43,64.65 L491.95,64.66 L492.47,64.68 L492.99,64.70 L493.51,64.72 L494.03,64.74 L494.55,64.76 L495.07,64.78 L495.59,64.81 L496.11,64.83 L496.63,64.86 L497.15,64.89 L497.67,64.92 L498.19,64.95 L498.71,64.99 L499.23,65.02 L499.75,65.06 L500.27,65.10 L500.79,65.14 L501.31,65.18 L501.83,65.22 L502.35,65.27 L502.87,65.31 L503.39,65.36 L503.91,65.40 L504.43,65.45 L504.95,65.50 L505.47,65.55 L505.99,65.61 L506.51,65.66 L507.03,65.71 L507.55,65.77 L508.07,65.82 L508.58,65.88 L509.10,65.94 L509.62,66.00 L510.14,66.06 L510.66,66.12 L511.18,66.18 L511.70,66.25 L512.22,66.31 L512.74,66.37 L513.26,66.44 L513.78,66.51 L514.30,66.57 L514.82,66.64 L515.34,66.71 L515.86,66.78 L516.38,66.85 L516.90,66.92 L517.42,66.99 L517.94,67.06 L518.46,67.14 L518.98,67.21 L519.50,67.28 L520.02,67.36 L520.54,67.43 L521.06,67.51 L521.58,67.58 L522.10,67.66 L522.62,67.74 L523.14,67.81 L523.66,67.89 L524.18,67.97 L524.70,68.05 L525.22,68.13 L525.74,68.20 L526.26,68.28 L526.78,68.36 L527.30,68.44 L527.82,68.52 L528.34,68.60 L528.86,68.68 L529.38,68.76 L529.90,68.84 L530.42,68.92 L530.94,69.00 L531.46,69.09 L531.98,69.17 L532.50,69.25 L533.02,69.33 L533.54,69.41 L534.06,69.49 L534.57,69.57 L535.09,69.65 L535.61,69.73 L536.13,69.81 L536.65,69.89 L537.17,69.97 L537.69,70.05 L538.21,70.13 L538.73,70.21 L539.25,70.29 L539.77,70.37 L540.29,70.45 L540.81,70.52 L541.33,70.60 L541.85,70.68 L542.37,70.76 L542.89,70.83 L543.41,70.91 L543.93,70.99 L544.45,71.06 L544.97,71.14 L545.49,71.21 L546.01,71.28 L546.53,71.36 L547.05,71.43 L547.57,71.50 L548.09,71.57 L548.61,71.64 L549.13,71.71 L549.65,71.78 L550.17,71.85 L550.69,71.92 L551.21,71.99 L551.73,72.05 L552.25,72.12 L552.77,72.18 L553.29,72.25 L553.81,72.31 L554.33,72.37 L554.85,72.43 L555.37,72.49 L555.89,72.55 L556.41,72.61 L556.93,72.67 L557.45,72.72 L557.97,72.78 L558.49,72.83 L559.01,72.88 L559.53,72.94 L560.05,72.99 L560.56,73.04 L561.08,73.08 L561.60,73.13 L562.12,73.18 L562.64,73.22 L563.16,73.27 L563.68,73.31 L564.20,73.35 L564.72,73.39 L565.24,73.43 L565.76,73.46 L566.28,73.50 L566.80,73.53 L567.32,73.57 L567.84,73.60 L568.36,73.63 L568.88,73.66 L569.40,73.69 L569.92,73.71 L570.44,73.74 L570.96,73.76 L571.48,73.78 L572.00,73.81 L572.52,73.83 L573.04,73.85 L573.56,73.86 L574.08,73.88 L574.60,73.90 L575.12,73.91 L575.64,73.93 L576.16,73.94 L576.68,73.95 L577.20,73.96 L577.72,73.97 L578.24,73.98 L578.76,73.99 L579.28,73.99 L579.80,74.00 L580.32,74.00 L580.84,74.00 L581.36,74.01 L581.88,74.01 L582.40,74.01 L582.92,74.01 L583.44,74.01 L583.96,74.00 L584.48,74.00 L585.00,73.99 L585.52,73.99 L586.04,73.98 L586.55,73.98 L587.07,73.97 L587.59,73.96 L588.11,73.95 L588.63,73.94 L589.15,73.93 L589.67,73.91 L590.19,73.90 L590.71,73.89 L591.23,73.87 L591.75,73.86 L592.27,73.84 L592.79,73.82 L593.31,73.81 L593.83,73.79 L594.35,73.77 L594.87,73.75 L595.39,73.73 L595.91,73.70 L596.43,73.68 L596.95,73.66 L597.47,73.64 L597.99,73.61 L598.51,73.59 L599.03,73.56 L599.55,73.54 L600.07,73.51 L600.59,73.48 L601.11,73.45 L601.63,73.43 L602.15,73.40 L602.67,73.37 L603.19,73.34 L603.71,73.31 L604.23,73.28 L604.75,73.24 L605.27,73.21 L605.79,73.18 L606.31,73.15 L606.83,73.11 L607.35,73.08 L607.87,73.04 L608.39,73.01 L608.91,72.97 L609.43,72.94 L609.95,72.90 L610.47,72.86 L610.99,72.83 L611.51,72.79 L612.03,72.75 L612.54,72.71 L613.06,72.68 L613.58,72.64 L614.10,72.60 L614.62,72.56 L615.14,72.52 L615.66,72.48 L616.18,72.44 L616.70,72.40 L617.22,72.36 L617.74,72.32 L618.26,72.27 L618.78,72.23 L619.30,72.19 L619.82,72.15 L620.34,72.11 L620.86,72.07 L621.38,72.02 L621.90,71.98 L622.42,71.94 L622.94,71.89 L623.46,71.85 L623.98,71.81 L624.50,71.76 L625.02,71.72 L625.54,71.68 L626.06,71.63 L626.58,71.59 L627.10,71.55 L627.62,71.50 L628.14,71.46 L628.66,71.42 L629.18,71.37 L629.70,71.33 L630.22,71.29 L630.74,71.24 L631.26,71.20 L631.78,71.15 L632.30,71.11 L632.82,71.07 L633.34,71.02 L633.86,70.98 L634.38,70.94 L634.90,70.89 L635.42,70.85 L635.94,70.81 L636.46,70.77 L636.98,70.72 L637.50,70.68 L638.02,70.64 L638.53,70.60 L639.05,70.55 L639.57,70.51 L640.09,70.47 L640.61,70.43 L641.13,70.39 L641.65,70.35 L642.17,70.31 L642.69,70.27 L643.21,70.23 L643.73,70.19 L644.25,70.15 L644.77,70.11 L645.29,70.07 L645.81,70.03 L646.33,70.00 L646.85,69.96 L647.37,69.92 L647.89,69.88 L648.41,69.85 L648.93,69.81 L649.45,69.78 L649.97,69.74 L650.49,69.71 L651.01,69.67 L651.53,69.64 L652.05,69.60 L652.57,69.57 L653.09,69.54 L653.61,69.51 L654.13,69.48 L654.65,69.44 L655.17,69.41 L655.69,69.38 L656.21,69.36 L656.73,69.33 L657.25,69.30 L657.77,69.27 L658.29,69.24 L658.81,69.22 L659.33,69.19 L659.85,69.17 L660.37,69.14 L660.89,69.12 L661.41,69.09 L661.93,69.07 L662.45,69.05 L662.97,69.03 L663.49,69.01 L664.01,68.99 L664.52,68.97 L665.04,68.95 L665.56,68.93 L666.08,68.92 L666.60,68.90 L667.12,68.89 L667.64,68.87 L668.16,68.86 L668.68,68.85 L669.20,68.83 L669.72,68.82 L670.24,68.81 L670.76,68.80 L671.28,68.79 L671.80,68.79 L672.32,68.78 L672.84,68.77 L673.36,68.77 L673.88,68.76 L674.40,68.76 L674.92,68.76 L675.44,68.76 L675.96,68.76 L676.48,68.76 L677.00,68.76" fill="none" stroke="#5a5ad4" stroke-width="1.05" stroke-linejoin="round" opacity="0.9"/>
<path d="M395.7,65.9 L469.6,65.9 M653,69.0 L662,68.8 L676.6,68.8" fill="none" stroke="#7f4ad2" stroke-width="1.5" stroke-linejoin="round"/>
<g font-size="11.6" fill="#1a1a1a"><text x="395.70" y="162.90" text-anchor="middle">0</text><text x="423.83" y="162.90" text-anchor="middle">2</text><text x="451.96" y="162.90" text-anchor="middle">4</text><text x="480.09" y="162.90" text-anchor="middle">6</text><text x="508.22" y="162.90" text-anchor="middle">8</text><text x="536.35" y="162.90" text-anchor="middle">10</text><text x="564.48" y="162.90" text-anchor="middle">12</text><text x="592.61" y="162.90" text-anchor="middle">14</text><text x="620.74" y="162.90" text-anchor="middle">16</text><text x="648.87" y="162.90" text-anchor="middle">18</text><text x="677.00" y="162.90" text-anchor="middle">20</text><text x="392.10" y="153.80" text-anchor="end">0</text><text x="392.10" y="112.12" text-anchor="end">20</text><text x="392.10" y="70.43" text-anchor="end">40</text><text x="392.10" y="28.75" text-anchor="end">60</text></g>
<text x="536.35" y="182.90" text-anchor="middle" font-size="11.6" fill="#1a1a1a">Time (Week)</text>
<text transform="translate(366.90,86.08) rotate(-90)" text-anchor="middle" font-size="11.6" fill="#1a1a1a">hours/Week</text>
<text x="530.65" y="11.95" text-anchor="middle" font-size="14.9" fill="#1a1a1a">Workweek</text>
<g font-size="11.25" fill="#1a1a1a"><line x1="356.70" y1="197.90" x2="381.30" y2="197.90" stroke="#2a2aff" stroke-width="2"/><line x1="356.70" y1="212.00" x2="381.30" y2="212.00" stroke="#ff3c3c" stroke-width="2"/><line x1="526.20" y1="197.90" x2="550.70" y2="197.90" stroke="#3cb43c" stroke-width="2"/><text x="392.50" y="202.10">scenario 1</text><text x="392.50" y="216.20">scenario 3a (high)</text><text x="562.30" y="202.10">scenario 3b (low)</text></g>
<g stroke="#f3f3f3" stroke-width="1.1"><line x1="68.20" y1="269.4" x2="68.20" y2="394.4"/><line x1="96.40" y1="269.4" x2="96.40" y2="394.4"/><line x1="124.60" y1="269.4" x2="124.60" y2="394.4"/><line x1="152.80" y1="269.4" x2="152.80" y2="394.4"/><line x1="181.00" y1="269.4" x2="181.00" y2="394.4"/><line x1="209.20" y1="269.4" x2="209.20" y2="394.4"/><line x1="237.40" y1="269.4" x2="237.40" y2="394.4"/><line x1="265.60" y1="269.4" x2="265.60" y2="394.4"/><line x1="293.80" y1="269.4" x2="293.80" y2="394.4"/><line x1="40" y1="331.90" x2="322" y2="331.90"/></g>
<g stroke="#1a1a1a"><line x1="40" y1="268.79999999999995" x2="40" y2="395.0" stroke-width="1.2"/><line x1="322" y1="268.79999999999995" x2="322" y2="395.0" stroke-width="1.5"/><line x1="39.3" y1="269.4" x2="322.75" y2="269.4" stroke-width="1.2"/><line x1="39.3" y1="394.4" x2="322.75" y2="394.4" stroke-width="1.2"/></g>
<path d="M40,362.8 L110,362.8 L110.00,362.80 L110.53,362.80 L111.06,362.80 L111.59,362.79 L112.12,362.79 L112.65,362.79 L113.18,362.79 L113.71,362.79 L114.24,362.78 L114.77,362.78 L115.30,362.78 L115.83,362.77 L116.36,362.77 L116.89,362.77 L117.42,362.76 L117.95,362.76 L118.48,362.75 L119.01,362.75 L119.54,362.75 L120.07,362.74 L120.60,362.74 L121.13,362.73 L121.66,362.72 L122.19,362.72 L122.72,362.71 L123.25,362.71 L123.78,362.70 L124.31,362.69 L124.84,362.69 L125.37,362.68 L125.90,362.67 L126.43,362.66 L126.96,362.65 L127.49,362.64 L128.02,362.63 L128.55,362.63 L129.08,362.62 L129.61,362.60 L130.14,362.59 L130.67,362.58 L131.20,362.57 L131.73,362.56 L132.26,362.55 L132.79,362.53 L133.32,362.52 L133.85,362.51 L134.38,362.49 L134.91,362.48 L135.44,362.46 L135.97,362.45 L136.50,362.43 L137.03,362.42 L137.56,362.40 L138.09,362.38 L138.62,362.36 L139.15,362.35 L139.68,362.33 L140.21,362.31 L140.74,362.29 L141.27,362.27 L141.80,362.25 L142.33,362.22 L142.86,362.20 L143.39,362.18 L143.92,362.16 L144.45,362.13 L144.98,362.11 L145.52,362.08 L146.05,362.06 L146.58,362.03 L147.11,362.00 L147.64,361.97 L148.17,361.95 L148.70,361.92 L149.23,361.89 L149.76,361.86 L150.29,361.83 L150.82,361.80 L151.35,361.76 L151.88,361.73 L152.41,361.70 L152.94,361.66 L153.47,361.63 L154.00,361.59 L154.53,361.55 L155.06,361.52 L155.59,361.48 L156.12,361.44 L156.65,361.40 L157.18,361.36 L157.71,361.32 L158.24,361.28 L158.77,361.23 L159.30,361.19 L159.83,361.15 L160.36,361.10 L160.89,361.06 L161.42,361.01 L161.95,360.96 L162.48,360.91 L163.01,360.86 L163.54,360.81 L164.07,360.76 L164.60,360.71 L165.13,360.66 L165.66,360.60 L166.19,360.55 L166.72,360.49 L167.25,360.44 L167.78,360.38 L168.31,360.32 L168.84,360.26 L169.37,360.20 L169.90,360.14 L170.43,360.08 L170.96,360.01 L171.49,359.95 L172.02,359.88 L172.55,359.82 L173.08,359.75 L173.61,359.68 L174.14,359.61 L174.67,359.54 L175.20,359.47 L175.73,359.40 L176.26,359.33 L176.79,359.25 L177.32,359.18 L177.85,359.10 L178.38,359.02 L178.91,358.95 L179.44,358.87 L179.97,358.78 L180.50,358.70 L181.03,358.62 L181.56,358.54 L182.09,358.45 L182.62,358.36 L183.15,358.28 L183.68,358.19 L184.21,358.10 L184.74,358.01 L185.27,357.91 L185.80,357.82 L186.33,357.73 L186.86,357.63 L187.39,357.53 L187.92,357.43 L188.45,357.34 L188.98,357.23 L189.51,357.13 L190.04,357.03 L190.57,356.92 L191.10,356.82 L191.63,356.71 L192.16,356.60 L192.69,356.49 L193.22,356.38 L193.75,356.27 L194.28,356.16 L194.81,356.04 L195.34,355.93 L195.87,355.81 L196.40,355.69 L196.93,355.57 L197.46,355.45 L197.99,355.33 L198.52,355.20 L199.05,355.08 L199.58,354.95 L200.11,354.82 L200.64,354.69 L201.17,354.56 L201.70,354.43 L202.23,354.29 L202.76,354.16 L203.29,354.02 L203.82,353.88 L204.35,353.74 L204.88,353.60 L205.41,353.46 L205.94,353.31 L206.47,353.17 L207.00,353.02 L207.53,352.87 L208.06,352.72 L208.59,352.57 L209.12,352.42 L209.65,352.26 L210.18,352.11 L210.71,351.95 L211.24,351.79 L211.77,351.63 L212.30,351.46 L212.83,351.30 L213.36,351.13 L213.89,350.97 L214.42,350.80 L214.95,350.63 L215.48,350.46 L216.02,350.28 L216.55,350.11 L217.08,349.93 L217.61,349.75 L218.14,349.57 L218.67,349.39 L219.20,349.20 L219.73,349.02 L220.26,348.83 L220.79,348.64 L221.32,348.45 L221.85,348.26 L222.38,348.07 L222.91,347.87 L223.44,347.67 L223.97,347.47 L224.50,347.27 L225.03,347.07 L225.56,346.87 L226.09,346.66 L226.62,346.45 L227.15,346.24 L227.68,346.03 L228.21,345.82 L228.74,345.60 L229.27,345.39 L229.80,345.17 L230.33,344.95 L230.86,344.72 L231.39,344.50 L231.92,344.27 L232.45,344.05 L232.98,343.82 L233.51,343.58 L234.04,343.35 L234.57,343.11 L235.10,342.88 L235.63,342.64 L236.16,342.40 L236.69,342.15 L237.22,341.91 L237.75,341.66 L238.28,341.41 L238.81,341.16 L239.34,340.91 L239.87,340.65 L240.40,340.40 L240.93,340.14 L241.46,339.88 L241.99,339.61 L242.52,339.35 L243.05,339.08 L243.58,338.81 L244.11,338.54 L244.64,338.27 L245.17,338.00 L245.70,337.72 L246.23,337.44 L246.76,337.16 L247.29,336.87 L247.82,336.59 L248.35,336.30 L248.88,336.01 L249.41,335.72 L249.94,335.43 L250.47,335.13 L251.00,334.83 L251.53,334.53 L252.06,334.23 L252.59,333.93 L253.12,333.62 L253.65,333.31 L254.18,333.00 L254.71,332.69 L255.24,332.37 L255.77,332.05 L256.30,331.73 L256.83,331.41 L257.36,331.09 L257.89,330.76 L258.42,330.43 L258.95,330.10 L259.48,329.77 L260.01,329.43 L260.54,329.10 L261.07,328.76 L261.60,328.41 L262.13,328.07 L262.66,327.72 L263.19,327.37 L263.72,327.02 L264.25,326.67 L264.78,326.31 L265.31,325.95 L265.84,325.59 L266.37,325.22 L266.90,324.85 L267.43,324.48 L267.96,324.10 L268.49,323.72 L269.02,323.33 L269.55,322.94 L270.08,322.55 L270.61,322.14 L271.14,321.74 L271.67,321.33 L272.20,320.91 L272.73,320.48 L273.26,320.05 L273.79,319.62 L274.32,319.18 L274.85,318.73 L275.38,318.27 L275.91,317.81 L276.44,317.33 L276.97,316.85 L277.50,316.37 L278.03,315.87 L278.56,315.37 L279.09,314.86 L279.62,314.34 L280.15,313.81 L280.68,313.27 L281.21,312.72 L281.74,312.16 L282.27,311.60 L282.80,311.03 L283.33,310.45 L283.86,309.86 L284.39,309.27 L284.92,308.67 L285.45,308.07 L285.98,307.46 L286.52,306.84 L287.05,306.22 L287.58,305.60 L288.11,304.97 L288.64,304.34 L289.17,303.70 L289.70,303.06 L290.23,302.42 L290.76,301.77 L291.29,301.12 L291.82,300.48 L292.35,299.82 L292.88,299.17 L293.41,298.52 L293.94,297.87 L294.47,297.22 L295.00,296.56 L295.53,295.91 L296.06,295.26 L296.59,294.61 L297.12,293.96 L297.65,293.32 L298.18,292.67 L298.71,292.03 L299.24,291.39 L299.77,290.76 L300.30,290.13 L300.83,289.50 L301.36,288.88 L301.89,288.26 L302.42,287.65 L302.95,287.04 L303.48,286.44 L304.01,285.85 L304.54,285.27 L305.07,284.69 L305.60,284.13 L306.13,283.57 L306.66,283.02 L307.19,282.49 L307.72,281.96 L308.25,281.45 L308.78,280.95 L309.31,280.46 L309.84,279.99 L310.37,279.53 L310.90,279.08 L311.43,278.65 L311.96,278.24 L312.49,277.84 L313.02,277.46 L313.55,277.10 L314.08,276.75 L314.61,276.42 L315.14,276.12 L315.67,275.83 L316.20,275.56 L316.73,275.31 L317.26,275.08 L317.79,274.88 L318.32,274.70 L318.85,274.54 L319.38,274.40 L319.91,274.29 L320.44,274.20 L320.97,274.14 L321.50,274.11" fill="none" stroke="#56ae56" stroke-width="1.05" stroke-linejoin="round" opacity="0.9"/>
<path d="M40,300.3 L115,300.3 L115.00,300.30 L115.31,300.30 L115.63,300.29 L115.94,300.29 L116.25,300.28 L116.57,300.28 L116.88,300.28 L117.19,300.27 L117.51,300.27 L117.82,300.27 L118.13,300.27 L118.45,300.26 L118.76,300.26 L119.07,300.26 L119.39,300.26 L119.70,300.25 L120.01,300.25 L120.33,300.25 L120.64,300.24 L120.95,300.24 L121.27,300.24 L121.58,300.23 L121.89,300.23 L122.21,300.22 L122.52,300.22 L122.83,300.21 L123.15,300.20 L123.46,300.20 L123.77,300.19 L124.09,300.18 L124.40,300.17 L124.71,300.16 L125.03,300.15 L125.34,300.14 L125.65,300.12 L125.96,300.11 L126.28,300.10 L126.59,300.08 L126.90,300.06 L127.22,300.05 L127.53,300.03 L127.84,300.01 L128.16,299.99 L128.47,299.96 L128.78,299.94 L129.10,299.92 L129.41,299.89 L129.72,299.86 L130.04,299.83 L130.35,299.80 L130.66,299.77 L130.98,299.74 L131.29,299.70 L131.60,299.66 L131.92,299.63 L132.23,299.59 L132.54,299.54 L132.86,299.50 L133.17,299.45 L133.48,299.41 L133.80,299.36 L134.11,299.31 L134.42,299.25 L134.74,299.20 L135.05,299.14 L135.36,299.08 L135.68,299.02 L135.99,298.96 L136.30,298.89 L136.62,298.82 L136.93,298.75 L137.24,298.68 L137.56,298.60 L137.87,298.53 L138.18,298.45 L138.50,298.36 L138.81,298.28 L139.12,298.19 L139.44,298.10 L139.75,298.01 L140.06,297.92 L140.38,297.82 L140.69,297.72 L141.00,297.62 L141.32,297.52 L141.63,297.41 L141.94,297.31 L142.26,297.20 L142.57,297.09 L142.88,296.97 L143.20,296.86 L143.51,296.74 L143.82,296.62 L144.14,296.50 L144.45,296.38 L144.76,296.25 L145.08,296.12 L145.39,295.99 L145.70,295.86 L146.02,295.73 L146.33,295.60 L146.64,295.46 L146.95,295.32 L147.27,295.18 L147.58,295.04 L147.89,294.90 L148.21,294.75 L148.52,294.61 L148.83,294.46 L149.15,294.31 L149.46,294.15 L149.77,294.00 L150.09,293.85 L150.40,293.69 L150.71,293.53 L151.03,293.37 L151.34,293.21 L151.65,293.05 L151.97,292.89 L152.28,292.72 L152.59,292.55 L152.91,292.39 L153.22,292.22 L153.53,292.05 L153.85,291.87 L154.16,291.70 L154.47,291.53 L154.79,291.35 L155.10,291.17 L155.41,290.99 L155.73,290.82 L156.04,290.63 L156.35,290.45 L156.67,290.27 L156.98,290.09 L157.29,289.90 L157.61,289.71 L157.92,289.53 L158.23,289.34 L158.55,289.15 L158.86,288.96 L159.17,288.77 L159.49,288.58 L159.80,288.38 L160.11,288.19 L160.43,287.99 L160.74,287.80 L161.05,287.60 L161.37,287.41 L161.68,287.21 L161.99,287.01 L162.31,286.81 L162.62,286.61 L162.93,286.41 L163.25,286.21 L163.56,286.00 L163.87,285.80 L164.19,285.60 L164.50,285.39 L164.81,285.19 L165.13,284.98 L165.44,284.78 L165.75,284.57 L166.07,284.37 L166.38,284.16 L166.69,283.95 L167.01,283.74 L167.32,283.53 L167.63,283.33 L167.94,283.12 L168.26,282.91 L168.57,282.70 L168.88,282.49 L169.20,282.28 L169.51,282.07 L169.82,281.86 L170.14,281.65 L170.45,281.44 L170.76,281.23 L171.08,281.03 L171.39,280.82 L171.70,280.61 L172.02,280.41 L172.33,280.20 L172.64,280.00 L172.96,279.80 L173.27,279.60 L173.58,279.40 L173.90,279.20 L174.21,279.00 L174.52,278.81 L174.84,278.61 L175.15,278.42 L175.46,278.23 L175.78,278.04 L176.09,277.85 L176.40,277.67 L176.72,277.49 L177.03,277.30 L177.34,277.13 L177.66,276.95 L177.97,276.78 L178.28,276.61 L178.60,276.44 L178.91,276.27 L179.22,276.11 L179.54,275.95 L179.85,275.79 L180.16,275.64 L180.48,275.49 L180.79,275.34 L181.10,275.19 L181.42,275.05 L181.73,274.91 L182.04,274.77 L182.36,274.63 L182.67,274.50 L182.98,274.37 L183.30,274.24 L183.61,274.12 L183.92,273.99 L184.24,273.87 L184.55,273.75 L184.86,273.64 L185.18,273.52 L185.49,273.41 L185.80,273.30 L186.12,273.19 L186.43,273.09 L186.74,272.99 L187.06,272.89 L187.37,272.79 L187.68,272.69 L187.99,272.60 L188.31,272.50 L188.62,272.41 L188.93,272.32 L189.25,272.24 L189.56,272.15 L189.87,272.07 L190.19,271.99 L190.50,271.91 L190.81,271.83 L191.13,271.76 L191.44,271.69 L191.75,271.61 L192.07,271.54 L192.38,271.48 L192.69,271.41 L193.01,271.34 L193.32,271.28 L193.63,271.22 L193.95,271.16 L194.26,271.10 L194.57,271.04 L194.89,270.99 L195.20,270.93 L195.51,270.88 L195.83,270.83 L196.14,270.78 L196.45,270.73 L196.77,270.68 L197.08,270.64 L197.39,270.59 L197.71,270.55 L198.02,270.51 L198.33,270.47 L198.65,270.43 L198.96,270.39 L199.27,270.36 L199.59,270.32 L199.90,270.29 L200.21,270.25 L200.53,270.22 L200.84,270.19 L201.15,270.16 L201.47,270.13 L201.78,270.11 L202.09,270.08 L202.41,270.06 L202.72,270.03 L203.03,270.01 L203.35,269.99 L203.66,269.97 L203.97,269.95 L204.29,269.93 L204.60,269.91 L204.91,269.89 L205.23,269.88 L205.54,269.86 L205.85,269.85 L206.17,269.83 L206.48,269.82 L206.79,269.81 L207.11,269.80 L207.42,269.79 L207.73,269.78 L208.05,269.77 L208.36,269.76 L208.67,269.75 L208.98,269.75 L209.30,269.74 L209.61,269.73 L209.92,269.73 L210.24,269.73 L210.55,269.72 L210.86,269.72 L211.18,269.72 L211.49,269.72 L211.80,269.71 L212.12,269.71 L212.43,269.71 L212.74,269.71 L213.06,269.71 L213.37,269.71 L213.68,269.71 L214.00,269.71 L214.31,269.71 L214.62,269.71 L214.94,269.71 L215.25,269.71 L215.56,269.71 L215.88,269.71 L216.19,269.71 L216.50,269.71 L216.82,269.71 L217.13,269.71 L217.44,269.71 L217.76,269.71 L218.07,269.71 L218.38,269.71 L218.70,269.71 L219.01,269.71 L219.32,269.71 L219.64,269.71 L219.95,269.71 L220.26,269.71 L220.58,269.71 L220.89,269.71 L221.20,269.71 L221.52,269.71 L221.83,269.71 L222.14,269.71 L222.46,269.71 L222.77,269.71 L223.08,269.71 L223.40,269.71 L223.71,269.71 L224.02,269.71 L224.34,269.71 L224.65,269.71 L224.96,269.71 L225.28,269.71 L225.59,269.71 L225.90,269.71 L226.22,269.71 L226.53,269.71 L226.84,269.71 L227.16,269.71 L227.47,269.71 L227.78,269.71 L228.10,269.71 L228.41,269.71 L228.72,269.71 L229.04,269.71 L229.35,269.71 L229.66,269.71 L229.97,269.71 L230.29,269.71 L230.60,269.71 L230.91,269.71 L231.23,269.71 L231.54,269.71 L231.85,269.71 L232.17,269.71 L232.48,269.71 L232.79,269.71 L233.11,269.71 L233.42,269.71 L233.73,269.71 L234.05,269.71 L234.36,269.71 L234.67,269.71 L234.99,269.71 L235.30,269.71 L235.61,269.71 L235.93,269.71 L236.24,269.71 L236.55,269.71 L236.87,269.71 L237.18,269.70 L237.49,269.68 L237.81,269.66 L238.12,269.64 L238.43,269.62 L238.75,269.59 L239.06,269.57 L239.37,269.54 L239.69,269.52 L240.00,269.50 L321.5,269.5" fill="none" stroke="#d6525c" stroke-width="1.05" stroke-linejoin="round" opacity="0.9"/>
<path d="M40,331.7 L115,331.7 L115.00,331.70 L115.44,331.69 L115.88,331.69 L116.32,331.68 L116.75,331.67 L117.19,331.66 L117.63,331.65 L118.07,331.64 L118.51,331.63 L118.95,331.62 L119.39,331.61 L119.82,331.60 L120.26,331.58 L120.70,331.57 L121.14,331.55 L121.58,331.53 L122.02,331.52 L122.46,331.50 L122.89,331.48 L123.33,331.46 L123.77,331.44 L124.21,331.42 L124.65,331.40 L125.09,331.37 L125.53,331.35 L125.96,331.32 L126.40,331.30 L126.84,331.27 L127.28,331.24 L127.72,331.21 L128.16,331.18 L128.60,331.15 L129.04,331.12 L129.47,331.09 L129.91,331.05 L130.35,331.02 L130.79,330.98 L131.23,330.94 L131.67,330.91 L132.11,330.87 L132.54,330.83 L132.98,330.78 L133.42,330.74 L133.86,330.70 L134.30,330.65 L134.74,330.61 L135.18,330.56 L135.61,330.51 L136.05,330.46 L136.49,330.41 L136.93,330.36 L137.37,330.30 L137.81,330.25 L138.25,330.19 L138.68,330.13 L139.12,330.08 L139.56,330.02 L140.00,329.95 L140.44,329.89 L140.88,329.83 L141.32,329.76 L141.75,329.70 L142.19,329.63 L142.63,329.56 L143.07,329.49 L143.51,329.41 L143.95,329.34 L144.39,329.27 L144.82,329.19 L145.26,329.11 L145.70,329.03 L146.14,328.95 L146.58,328.87 L147.02,328.78 L147.46,328.70 L147.89,328.61 L148.33,328.52 L148.77,328.43 L149.21,328.34 L149.65,328.25 L150.09,328.15 L150.53,328.06 L150.96,327.96 L151.40,327.86 L151.84,327.76 L152.28,327.65 L152.72,327.55 L153.16,327.44 L153.60,327.33 L154.04,327.22 L154.47,327.11 L154.91,327.00 L155.35,326.88 L155.79,326.76 L156.23,326.65 L156.67,326.53 L157.11,326.40 L157.54,326.28 L157.98,326.15 L158.42,326.03 L158.86,325.90 L159.30,325.76 L159.74,325.63 L160.18,325.50 L160.61,325.36 L161.05,325.22 L161.49,325.08 L161.93,324.94 L162.37,324.79 L162.81,324.64 L163.25,324.50 L163.68,324.35 L164.12,324.19 L164.56,324.04 L165.00,323.88 L165.44,323.72 L165.88,323.56 L166.32,323.40 L166.75,323.23 L167.19,323.07 L167.63,322.90 L168.07,322.73 L168.51,322.55 L168.95,322.38 L169.39,322.20 L169.82,322.02 L170.26,321.84 L170.70,321.66 L171.14,321.47 L171.58,321.28 L172.02,321.09 L172.46,320.90 L172.89,320.70 L173.33,320.51 L173.77,320.31 L174.21,320.11 L174.65,319.90 L175.09,319.70 L175.53,319.49 L175.96,319.28 L176.40,319.06 L176.84,318.85 L177.28,318.63 L177.72,318.41 L178.16,318.19 L178.60,317.96 L179.04,317.73 L179.47,317.50 L179.91,317.27 L180.35,317.04 L180.79,316.80 L181.23,316.56 L181.67,316.32 L182.11,316.07 L182.54,315.83 L182.98,315.58 L183.42,315.32 L183.86,315.07 L184.30,314.81 L184.74,314.55 L185.18,314.29 L185.61,314.02 L186.05,313.76 L186.49,313.48 L186.93,313.21 L187.37,312.94 L187.81,312.66 L188.25,312.37 L188.68,312.09 L189.12,311.80 L189.56,311.51 L190.00,311.22 L190.44,310.92 L190.88,310.63 L191.32,310.32 L191.75,310.02 L192.19,309.71 L192.63,309.40 L193.07,309.09 L193.51,308.77 L193.95,308.45 L194.39,308.13 L194.82,307.81 L195.26,307.48 L195.70,307.15 L196.14,306.81 L196.58,306.48 L197.02,306.14 L197.46,305.79 L197.89,305.45 L198.33,305.10 L198.77,304.74 L199.21,304.39 L199.65,304.03 L200.09,303.66 L200.53,303.30 L200.96,302.93 L201.40,302.55 L201.84,302.18 L202.28,301.80 L202.72,301.42 L203.16,301.03 L203.60,300.64 L204.04,300.25 L204.47,299.85 L204.91,299.45 L205.35,299.05 L205.79,298.64 L206.23,298.23 L206.67,297.82 L207.11,297.40 L207.54,296.98 L207.98,296.55 L208.42,296.13 L208.86,295.69 L209.30,295.26 L209.74,294.82 L210.18,294.38 L210.61,293.93 L211.05,293.49 L211.49,293.04 L211.93,292.59 L212.37,292.13 L212.81,291.68 L213.25,291.22 L213.68,290.77 L214.12,290.31 L214.56,289.85 L215.00,289.40 L215.44,288.94 L215.88,288.48 L216.32,288.03 L216.75,287.58 L217.19,287.12 L217.63,286.67 L218.07,286.23 L218.51,285.78 L218.95,285.34 L219.39,284.90 L219.82,284.47 L220.26,284.03 L220.70,283.61 L221.14,283.18 L221.58,282.76 L222.02,282.35 L222.46,281.94 L222.89,281.54 L223.33,281.14 L223.77,280.75 L224.21,280.36 L224.65,279.99 L225.09,279.61 L225.53,279.25 L225.96,278.89 L226.40,278.55 L226.84,278.21 L227.28,277.87 L227.72,277.55 L228.16,277.24 L228.60,276.93 L229.04,276.64 L229.47,276.35 L229.91,276.08 L230.35,275.81 L230.79,275.56 L231.23,275.32 L231.67,275.09 L232.11,274.86 L232.54,274.65 L232.98,274.45 L233.42,274.25 L233.86,274.07 L234.30,273.89 L234.74,273.72 L235.18,273.56 L235.61,273.41 L236.05,273.26 L236.49,273.12 L236.93,272.99 L237.37,272.86 L237.81,272.74 L238.25,272.63 L238.68,272.52 L239.12,272.42 L239.56,272.32 L240.00,272.23 L240.44,272.14 L240.88,272.06 L241.32,271.97 L241.75,271.90 L242.19,271.82 L242.63,271.75 L243.07,271.69 L243.51,271.62 L243.95,271.56 L244.39,271.50 L244.82,271.44 L245.26,271.38 L245.70,271.32 L246.14,271.27 L246.58,271.22 L247.02,271.17 L247.46,271.12 L247.89,271.07 L248.33,271.02 L248.77,270.98 L249.21,270.94 L249.65,270.90 L250.09,270.86 L250.53,270.82 L250.96,270.78 L251.40,270.75 L251.84,270.71 L252.28,270.68 L252.72,270.65 L253.16,270.62 L253.60,270.59 L254.04,270.56 L254.47,270.53 L254.91,270.51 L255.35,270.48 L255.79,270.46 L256.23,270.44 L256.67,270.42 L257.11,270.40 L257.54,270.38 L257.98,270.36 L258.42,270.34 L258.86,270.32 L259.30,270.31 L259.74,270.29 L260.18,270.28 L260.61,270.27 L261.05,270.25 L261.49,270.24 L261.93,270.23 L262.37,270.22 L262.81,270.21 L263.25,270.20 L263.68,270.19 L264.12,270.18 L264.56,270.18 L265.00,270.17 L265.44,270.16 L265.88,270.16 L266.32,270.15 L266.75,270.14 L267.19,270.14 L267.63,270.13 L268.07,270.13 L268.51,270.13 L268.95,270.12 L269.39,270.12 L269.82,270.11 L270.26,270.11 L270.70,270.11 L271.14,270.10 L271.58,270.10 L272.02,270.10 L272.46,270.09 L272.89,270.09 L273.33,270.08 L273.77,270.08 L274.21,270.08 L274.65,270.07 L275.09,270.07 L275.53,270.06 L275.96,270.06 L276.40,270.05 L276.84,270.05 L277.28,270.04 L277.72,270.04 L278.16,270.03 L278.60,270.02 L279.04,270.02 L279.47,270.01 L279.91,270.00 L280.35,269.99 L280.79,269.98 L281.23,269.97 L281.67,269.96 L282.11,269.95 L282.54,269.94 L282.98,269.92 L283.42,269.91 L283.86,269.90 L284.30,269.88 L284.74,269.86 L285.18,269.85 L285.61,269.83 L286.05,269.81 L286.49,269.79 L286.93,269.77 L287.37,269.75 L287.81,269.73 L288.25,269.70 L288.68,269.68 L289.12,269.65 L289.56,269.63 L290.00,269.60 L321.5,269.6" fill="none" stroke="#5a5ad4" stroke-width="1.05" stroke-linejoin="round" opacity="0.9"/>
<g font-size="11.6" fill="#1a1a1a"><text x="40.00" y="407.70" text-anchor="middle">0</text><text x="68.20" y="407.70" text-anchor="middle">2</text><text x="96.40" y="407.70" text-anchor="middle">4</text><text x="124.60" y="407.70" text-anchor="middle">6</text><text x="152.80" y="407.70" text-anchor="middle">8</text><text x="181.00" y="407.70" text-anchor="middle">10</text><text x="209.20" y="407.70" text-anchor="middle">12</text><text x="237.40" y="407.70" text-anchor="middle">14</text><text x="265.60" y="407.70" text-anchor="middle">16</text><text x="293.80" y="407.70" text-anchor="middle">18</text><text x="322.00" y="407.70" text-anchor="middle">20</text><text x="36.40" y="398.60" text-anchor="end">0</text><text x="36.40" y="336.10" text-anchor="end">0.5</text><text x="36.40" y="273.60" text-anchor="end">1</text></g>
<text x="181.00" y="427.70" text-anchor="middle" font-size="11.6" fill="#1a1a1a">Time (Week)</text>
<text transform="translate(11.20,330.90) rotate(-90)" text-anchor="middle" font-size="11.6" fill="#1a1a1a">Dmnl</text>
<text x="175.30" y="256.80" text-anchor="middle" font-size="14.9" fill="#1a1a1a">Trust in AA</text>
<g font-size="11.25" fill="#1a1a1a"><line x1="1.00" y1="442.70" x2="25.60" y2="442.70" stroke="#2a2aff" stroke-width="2"/><line x1="1.00" y1="456.80" x2="25.60" y2="456.80" stroke="#ff3c3c" stroke-width="2"/><line x1="170.50" y1="442.70" x2="195.00" y2="442.70" stroke="#3cb43c" stroke-width="2"/><text x="36.80" y="446.90">scenario 1</text><text x="36.80" y="461.00">scenario 3a (high)</text><text x="206.60" y="446.90">scenario 3b (low)</text></g>
<g stroke="#f3f3f3" stroke-width="1.1"><line x1="423.83" y1="269.55" x2="423.83" y2="394.5"/><line x1="451.96" y1="269.55" x2="451.96" y2="394.5"/><line x1="480.09" y1="269.55" x2="480.09" y2="394.5"/><line x1="508.22" y1="269.55" x2="508.22" y2="394.5"/><line x1="536.35" y1="269.55" x2="536.35" y2="394.5"/><line x1="564.48" y1="269.55" x2="564.48" y2="394.5"/><line x1="592.61" y1="269.55" x2="592.61" y2="394.5"/><line x1="620.74" y1="269.55" x2="620.74" y2="394.5"/><line x1="648.87" y1="269.55" x2="648.87" y2="394.5"/><line x1="395.7" y1="332.02" x2="677" y2="332.02"/></g>
<g stroke="#1a1a1a"><line x1="395.7" y1="268.95" x2="395.7" y2="395.1" stroke-width="1.3"/><line x1="677" y1="268.95" x2="677" y2="395.1" stroke-width="1.5"/><line x1="395.0" y1="269.55" x2="677.75" y2="269.55" stroke-width="1.2"/><line x1="395.0" y1="394.5" x2="677.75" y2="394.5" stroke-width="1.2"/></g>
<path d="M395.7,393.8 L467.3,393.8 L467.30,393.80 L467.83,393.10 L468.35,392.40 L468.88,391.72 L469.40,391.04 L469.93,390.38 L470.45,389.72 L470.98,389.07 L471.50,388.43 L472.03,387.80 L472.55,387.19 L473.08,386.58 L473.60,385.98 L474.13,385.40 L474.65,384.83 L475.18,384.27 L475.71,383.72 L476.23,383.18 L476.76,382.65 L477.28,382.14 L477.81,381.64 L478.33,381.16 L478.86,380.68 L479.38,380.22 L479.91,379.77 L480.43,379.33 L480.96,378.90 L481.48,378.48 L482.01,378.07 L482.53,377.67 L483.06,377.28 L483.58,376.90 L484.11,376.52 L484.64,376.16 L485.16,375.80 L485.69,375.45 L486.21,375.11 L486.74,374.77 L487.26,374.44 L487.79,374.12 L488.31,373.80 L488.84,373.48 L489.36,373.18 L489.89,372.87 L490.41,372.57 L490.94,372.28 L491.46,371.98 L491.99,371.69 L492.52,371.41 L493.04,371.12 L493.57,370.84 L494.09,370.56 L494.62,370.28 L495.14,370.00 L495.67,369.72 L496.19,369.44 L496.72,369.17 L497.24,368.89 L497.77,368.62 L498.29,368.34 L498.82,368.07 L499.34,367.80 L499.87,367.53 L500.39,367.26 L500.92,366.99 L501.45,366.72 L501.97,366.46 L502.50,366.19 L503.02,365.93 L503.55,365.66 L504.07,365.40 L504.60,365.14 L505.12,364.87 L505.65,364.61 L506.17,364.35 L506.70,364.09 L507.22,363.83 L507.75,363.58 L508.27,363.32 L508.80,363.06 L509.33,362.81 L509.85,362.55 L510.38,362.30 L510.90,362.05 L511.43,361.79 L511.95,361.54 L512.48,361.29 L513.00,361.04 L513.53,360.79 L514.05,360.54 L514.58,360.30 L515.10,360.05 L515.63,359.80 L516.15,359.56 L516.68,359.31 L517.20,359.07 L517.73,358.82 L518.26,358.58 L518.78,358.34 L519.31,358.10 L519.83,357.85 L520.36,357.61 L520.88,357.37 L521.41,357.13 L521.93,356.89 L522.46,356.66 L522.98,356.42 L523.51,356.18 L524.03,355.94 L524.56,355.71 L525.08,355.47 L525.61,355.24 L526.14,355.00 L526.66,354.77 L527.19,354.54 L527.71,354.30 L528.24,354.07 L528.76,353.84 L529.29,353.61 L529.81,353.38 L530.34,353.15 L530.86,352.92 L531.39,352.69 L531.91,352.46 L532.44,352.23 L532.96,352.00 L533.49,351.77 L534.01,351.55 L534.54,351.32 L535.07,351.09 L535.59,350.87 L536.12,350.64 L536.64,350.42 L537.17,350.19 L537.69,349.97 L538.22,349.74 L538.74,349.52 L539.27,349.30 L539.79,349.07 L540.32,348.85 L540.84,348.63 L541.37,348.41 L541.89,348.19 L542.42,347.96 L542.95,347.74 L543.47,347.52 L544.00,347.30 L544.52,347.08 L545.05,346.86 L545.57,346.64 L546.10,346.42 L546.62,346.20 L547.15,345.98 L547.67,345.76 L548.20,345.55 L548.72,345.33 L549.25,345.11 L549.77,344.89 L550.30,344.67 L550.82,344.46 L551.35,344.24 L551.88,344.02 L552.40,343.80 L552.93,343.59 L553.45,343.37 L553.98,343.15 L554.50,342.94 L555.03,342.72 L555.55,342.50 L556.08,342.29 L556.60,342.07 L557.13,341.86 L557.65,341.64 L558.18,341.42 L558.70,341.21 L559.23,340.99 L559.76,340.78 L560.28,340.56 L560.81,340.35 L561.33,340.13 L561.86,339.92 L562.38,339.70 L562.91,339.48 L563.43,339.27 L563.96,339.05 L564.48,338.84 L565.01,338.62 L565.53,338.41 L566.06,338.19 L566.58,337.98 L567.11,337.76 L567.63,337.55 L568.16,337.33 L568.69,337.12 L569.21,336.90 L569.74,336.69 L570.26,336.47 L570.79,336.26 L571.31,336.04 L571.84,335.83 L572.36,335.62 L572.89,335.41 L573.41,335.19 L573.94,334.98 L574.46,334.77 L574.99,334.56 L575.51,334.35 L576.04,334.14 L576.57,333.93 L577.09,333.72 L577.62,333.51 L578.14,333.31 L578.67,333.10 L579.19,332.89 L579.72,332.69 L580.24,332.48 L580.77,332.28 L581.29,332.08 L581.82,331.87 L582.34,331.67 L582.87,331.47 L583.39,331.27 L583.92,331.08 L584.44,330.88 L584.97,330.68 L585.50,330.49 L586.02,330.29 L586.55,330.10 L587.07,329.91 L587.60,329.71 L588.12,329.52 L588.65,329.34 L589.17,329.15 L589.70,328.96 L590.22,328.78 L590.75,328.59 L591.27,328.41 L591.80,328.23 L592.32,328.05 L592.85,327.87 L593.38,327.69 L593.90,327.52 L594.43,327.34 L594.95,327.17 L595.48,327.00 L596.00,326.83 L596.53,326.66 L597.05,326.50 L597.58,326.33 L598.10,326.17 L598.63,326.01 L599.15,325.85 L599.68,325.69 L600.20,325.53 L600.73,325.38 L601.25,325.23 L601.78,325.08 L602.31,324.93 L602.83,324.78 L603.36,324.63 L603.88,324.49 L604.41,324.35 L604.93,324.21 L605.46,324.07 L605.98,323.94 L606.51,323.81 L607.03,323.68 L607.56,323.55 L608.08,323.42 L608.61,323.30 L609.13,323.17 L609.66,323.05 L610.19,322.94 L610.71,322.82 L611.24,322.71 L611.76,322.60 L612.29,322.49 L612.81,322.38 L613.34,322.28 L613.86,322.18 L614.39,322.08 L614.91,321.99 L615.44,321.89 L615.96,321.80 L616.49,321.71 L617.01,321.63 L617.54,321.54 L618.06,321.46 L618.59,321.39 L619.12,321.31 L619.64,321.24 L620.17,321.17 L620.69,321.10 L621.22,321.04 L621.74,320.98 L622.27,320.92 L622.79,320.87 L623.32,320.81 L623.84,320.77 L624.37,320.72 L624.89,320.68 L625.42,320.64 L625.94,320.60 L626.47,320.57 L627.00,320.53 L627.52,320.51 L628.05,320.48 L628.57,320.46 L629.10,320.44 L629.62,320.43 L630.15,320.42 L630.67,320.41 L631.20,320.40 L631.72,320.40 L632.25,320.40 L632.77,320.41 L633.30,320.42 L633.82,320.43 L634.35,320.45 L634.87,320.47 L635.40,320.50 L635.93,320.52 L636.45,320.56 L636.98,320.60 L637.50,320.64 L638.03,320.69 L638.55,320.74 L639.08,320.79 L639.60,320.86 L640.13,320.92 L640.65,321.00 L641.18,321.07 L641.70,321.16 L642.23,321.25 L642.75,321.34 L643.28,321.44 L643.81,321.55 L644.33,321.66 L644.86,321.78 L645.38,321.90 L645.91,322.04 L646.43,322.17 L646.96,322.32 L647.48,322.47 L648.01,322.63 L648.53,322.79 L649.06,322.96 L649.58,323.14 L650.11,323.33 L650.63,323.52 L651.16,323.73 L651.68,323.94 L652.21,324.15 L652.74,324.38 L653.26,324.61 L653.79,324.85 L654.31,325.10 L654.84,325.36 L655.36,325.62 L655.89,325.90 L656.41,326.18 L656.94,326.48 L657.46,326.78 L657.99,327.09 L658.51,327.41 L659.04,327.73 L659.56,328.07 L660.09,328.42 L660.62,328.77 L661.14,329.12 L661.67,329.49 L662.19,329.85 L662.72,330.22 L663.24,330.60 L663.77,330.97 L664.29,331.35 L664.82,331.72 L665.34,332.10 L665.87,332.48 L666.39,332.85 L666.92,333.22 L667.44,333.59 L667.97,333.96 L668.49,334.32 L669.02,334.67 L669.55,335.02 L670.07,335.36 L670.60,335.70 L671.12,336.02 L671.65,336.34 L672.17,336.64 L672.70,336.93 L673.22,337.22 L673.75,337.49 L674.27,337.74 L674.80,337.99 L675.32,338.21 L675.85,338.43 L676.37,338.62 L676.90,338.80" fill="none" stroke="#56ae56" stroke-width="1.05" stroke-linejoin="round" opacity="0.9"/>
<path d="M395.7,393.8 L467.3,393.8 L467.30,393.80 L467.83,392.15 L468.35,390.51 L468.88,388.89 L469.40,387.27 L469.93,385.67 L470.45,384.09 L470.98,382.51 L471.50,380.95 L472.03,379.41 L472.55,377.88 L473.08,376.37 L473.60,374.87 L474.13,373.39 L474.65,371.93 L475.18,370.49 L475.71,369.06 L476.23,367.66 L476.76,366.27 L477.28,364.90 L477.81,363.56 L478.33,362.23 L478.86,360.93 L479.38,359.64 L479.91,358.38 L480.43,357.14 L480.96,355.93 L481.48,354.74 L482.01,353.57 L482.53,352.42 L483.06,351.30 L483.58,350.19 L484.11,349.11 L484.64,348.05 L485.16,347.01 L485.69,345.99 L486.21,344.99 L486.74,344.01 L487.26,343.05 L487.79,342.11 L488.31,341.19 L488.84,340.28 L489.36,339.40 L489.89,338.53 L490.41,337.69 L490.94,336.85 L491.46,336.04 L491.99,335.24 L492.52,334.46 L493.04,333.70 L493.57,332.95 L494.09,332.22 L494.62,331.50 L495.14,330.80 L495.67,330.12 L496.19,329.45 L496.72,328.79 L497.24,328.15 L497.77,327.52 L498.29,326.90 L498.82,326.30 L499.34,325.71 L499.87,325.13 L500.39,324.57 L500.92,324.01 L501.45,323.47 L501.97,322.94 L502.50,322.42 L503.02,321.92 L503.55,321.42 L504.07,320.93 L504.60,320.46 L505.12,319.99 L505.65,319.53 L506.17,319.08 L506.70,318.64 L507.22,318.21 L507.75,317.79 L508.27,317.37 L508.80,316.97 L509.33,316.57 L509.85,316.18 L510.38,315.79 L510.90,315.42 L511.43,315.05 L511.95,314.69 L512.48,314.34 L513.00,314.00 L513.53,313.67 L514.05,313.34 L514.58,313.02 L515.10,312.72 L515.63,312.42 L516.15,312.13 L516.68,311.85 L517.20,311.58 L517.73,311.32 L518.26,311.06 L518.78,310.82 L519.31,310.59 L519.83,310.37 L520.36,310.15 L520.88,309.95 L521.41,309.75 L521.93,309.57 L522.46,309.40 L522.98,309.23 L523.51,309.08 L524.03,308.94 L524.56,308.81 L525.08,308.69 L525.61,308.57 L526.14,308.48 L526.66,308.39 L527.19,308.31 L527.71,308.24 L528.24,308.19 L528.76,308.14 L529.29,308.11 L529.81,308.09 L530.34,308.08 L530.86,308.08 L531.39,308.10 L531.91,308.12 L532.44,308.16 L532.96,308.21 L533.49,308.27 L534.01,308.34 L534.54,308.43 L535.07,308.52 L535.59,308.63 L536.12,308.74 L536.64,308.87 L537.17,309.00 L537.69,309.15 L538.22,309.30 L538.74,309.47 L539.27,309.64 L539.79,309.83 L540.32,310.02 L540.84,310.22 L541.37,310.43 L541.89,310.65 L542.42,310.88 L542.95,311.11 L543.47,311.35 L544.00,311.60 L544.52,311.86 L545.05,312.12 L545.57,312.39 L546.10,312.67 L546.62,312.95 L547.15,313.24 L547.67,313.54 L548.20,313.84 L548.72,314.15 L549.25,314.46 L549.77,314.78 L550.30,315.10 L550.82,315.43 L551.35,315.76 L551.88,316.10 L552.40,316.44 L552.93,316.79 L553.45,317.14 L553.98,317.50 L554.50,317.86 L555.03,318.22 L555.55,318.59 L556.08,318.96 L556.60,319.34 L557.13,319.71 L557.65,320.10 L558.18,320.48 L558.70,320.87 L559.23,321.26 L559.76,321.65 L560.28,322.04 L560.81,322.44 L561.33,322.84 L561.86,323.24 L562.38,323.64 L562.91,324.04 L563.43,324.45 L563.96,324.86 L564.48,325.26 L565.01,325.67 L565.53,326.08 L566.06,326.49 L566.58,326.90 L567.11,327.31 L567.63,327.72 L568.16,328.13 L568.69,328.54 L569.21,328.96 L569.74,329.37 L570.26,329.78 L570.79,330.18 L571.31,330.59 L571.84,331.00 L572.36,331.40 L572.89,331.81 L573.41,332.21 L573.94,332.61 L574.46,333.01 L574.99,333.41 L575.51,333.81 L576.04,334.20 L576.57,334.59 L577.09,334.98 L577.62,335.36 L578.14,335.75 L578.67,336.13 L579.19,336.50 L579.72,336.88 L580.24,337.24 L580.77,337.61 L581.29,337.97 L581.82,338.33 L582.34,338.69 L582.87,339.03 L583.39,339.38 L583.92,339.72 L584.44,340.06 L584.97,340.39 L585.50,340.71 L586.02,341.04 L586.55,341.35 L587.07,341.67 L587.60,341.97 L588.12,342.28 L588.65,342.58 L589.17,342.87 L589.70,343.16 L590.22,343.44 L590.75,343.72 L591.27,344.00 L591.80,344.27 L592.32,344.54 L592.85,344.80 L593.38,345.05 L593.90,345.31 L594.43,345.55 L594.95,345.80 L595.48,346.04 L596.00,346.27 L596.53,346.50 L597.05,346.72 L597.58,346.94 L598.10,347.16 L598.63,347.37 L599.15,347.58 L599.68,347.78 L600.20,347.97 L600.73,348.17 L601.25,348.36 L601.78,348.54 L602.31,348.72 L602.83,348.89 L603.36,349.06 L603.88,349.23 L604.41,349.39 L604.93,349.55 L605.46,349.70 L605.98,349.85 L606.51,349.99 L607.03,350.13 L607.56,350.26 L608.08,350.39 L608.61,350.52 L609.13,350.64 L609.66,350.76 L610.19,350.87 L610.71,350.98 L611.24,351.08 L611.76,351.18 L612.29,351.27 L612.81,351.36 L613.34,351.45 L613.86,351.53 L614.39,351.61 L614.91,351.68 L615.44,351.75 L615.96,351.81 L616.49,351.87 L617.01,351.93 L617.54,351.98 L618.06,352.03 L618.59,352.07 L619.12,352.11 L619.64,352.14 L620.17,352.17 L620.69,352.20 L621.22,352.23 L621.74,352.25 L622.27,352.26 L622.79,352.28 L623.32,352.28 L623.84,352.29 L624.37,352.29 L624.89,352.29 L625.42,352.29 L625.94,352.28 L626.47,352.27 L627.00,352.26 L627.52,352.24 L628.05,352.22 L628.57,352.20 L629.10,352.17 L629.62,352.14 L630.15,352.11 L630.67,352.08 L631.20,352.04 L631.72,352.00 L632.25,351.96 L632.77,351.92 L633.30,351.87 L633.82,351.82 L634.35,351.77 L634.87,351.71 L635.40,351.66 L635.93,351.60 L636.45,351.54 L636.98,351.48 L637.50,351.41 L638.03,351.34 L638.55,351.28 L639.08,351.21 L639.60,351.13 L640.13,351.06 L640.65,350.99 L641.18,350.91 L641.70,350.83 L642.23,350.75 L642.75,350.67 L643.28,350.59 L643.81,350.50 L644.33,350.42 L644.86,350.33 L645.38,350.24 L645.91,350.15 L646.43,350.06 L646.96,349.97 L647.48,349.88 L648.01,349.79 L648.53,349.69 L649.06,349.60 L649.58,349.51 L650.11,349.41 L650.63,349.31 L651.16,349.22 L651.68,349.12 L652.21,349.02 L652.74,348.92 L653.26,348.83 L653.79,348.73 L654.31,348.63 L654.84,348.53 L655.36,348.43 L655.89,348.33 L656.41,348.23 L656.94,348.13 L657.46,348.04 L657.99,347.94 L658.51,347.84 L659.04,347.74 L659.56,347.64 L660.09,347.55 L660.62,347.45 L661.14,347.35 L661.67,347.26 L662.19,347.16 L662.72,347.07 L663.24,346.98 L663.77,346.88 L664.29,346.79 L664.82,346.70 L665.34,346.61 L665.87,346.52 L666.39,346.43 L666.92,346.35 L667.44,346.26 L667.97,346.18 L668.49,346.10 L669.02,346.01 L669.55,345.93 L670.07,345.86 L670.60,345.78 L671.12,345.70 L671.65,345.63 L672.17,345.56 L672.70,345.49 L673.22,345.42 L673.75,345.36 L674.27,345.29 L674.80,345.23 L675.32,345.17 L675.85,345.11 L676.37,345.05 L676.90,345.00" fill="none" stroke="#d6525c" stroke-width="1.05" stroke-linejoin="round" opacity="0.9"/>
<path d="M395.7,393.8 L467.3,393.8 L467.30,393.80 L467.83,392.46 L468.35,391.14 L468.88,389.83 L469.40,388.53 L469.93,387.25 L470.45,385.99 L470.98,384.75 L471.50,383.52 L472.03,382.31 L472.55,381.11 L473.08,379.94 L473.60,378.78 L474.13,377.64 L474.65,376.52 L475.18,375.43 L475.71,374.35 L476.23,373.29 L476.76,372.25 L477.28,371.23 L477.81,370.23 L478.33,369.26 L478.86,368.31 L479.38,367.38 L479.91,366.47 L480.43,365.58 L480.96,364.72 L481.48,363.88 L482.01,363.06 L482.53,362.27 L483.06,361.49 L483.58,360.74 L484.11,360.01 L484.64,359.29 L485.16,358.60 L485.69,357.92 L486.21,357.26 L486.74,356.62 L487.26,355.99 L487.79,355.38 L488.31,354.79 L488.84,354.21 L489.36,353.65 L489.89,353.10 L490.41,352.56 L490.94,352.04 L491.46,351.53 L491.99,351.03 L492.52,350.54 L493.04,350.07 L493.57,349.60 L494.09,349.15 L494.62,348.70 L495.14,348.26 L495.67,347.83 L496.19,347.41 L496.72,347.00 L497.24,346.59 L497.77,346.19 L498.29,345.79 L498.82,345.40 L499.34,345.01 L499.87,344.63 L500.39,344.25 L500.92,343.88 L501.45,343.50 L501.97,343.14 L502.50,342.77 L503.02,342.41 L503.55,342.05 L504.07,341.69 L504.60,341.34 L505.12,340.99 L505.65,340.64 L506.17,340.30 L506.70,339.96 L507.22,339.63 L507.75,339.29 L508.27,338.96 L508.80,338.64 L509.33,338.31 L509.85,338.00 L510.38,337.68 L510.90,337.37 L511.43,337.06 L511.95,336.75 L512.48,336.45 L513.00,336.15 L513.53,335.85 L514.05,335.56 L514.58,335.27 L515.10,334.98 L515.63,334.70 L516.15,334.42 L516.68,334.14 L517.20,333.87 L517.73,333.60 L518.26,333.33 L518.78,333.06 L519.31,332.80 L519.83,332.55 L520.36,332.29 L520.88,332.04 L521.41,331.79 L521.93,331.55 L522.46,331.31 L522.98,331.07 L523.51,330.83 L524.03,330.60 L524.56,330.38 L525.08,330.15 L525.61,329.93 L526.14,329.71 L526.66,329.49 L527.19,329.28 L527.71,329.07 L528.24,328.87 L528.76,328.67 L529.29,328.47 L529.81,328.27 L530.34,328.08 L530.86,327.89 L531.39,327.70 L531.91,327.52 L532.44,327.34 L532.96,327.16 L533.49,326.99 L534.01,326.82 L534.54,326.65 L535.07,326.49 L535.59,326.33 L536.12,326.17 L536.64,326.01 L537.17,325.86 L537.69,325.71 L538.22,325.57 L538.74,325.43 L539.27,325.29 L539.79,325.15 L540.32,325.02 L540.84,324.89 L541.37,324.77 L541.89,324.65 L542.42,324.53 L542.95,324.41 L543.47,324.30 L544.00,324.19 L544.52,324.08 L545.05,323.98 L545.57,323.88 L546.10,323.78 L546.62,323.68 L547.15,323.59 L547.67,323.51 L548.20,323.42 L548.72,323.34 L549.25,323.26 L549.77,323.19 L550.30,323.11 L550.82,323.05 L551.35,322.98 L551.88,322.92 L552.40,322.86 L552.93,322.80 L553.45,322.75 L553.98,322.70 L554.50,322.65 L555.03,322.61 L555.55,322.57 L556.08,322.53 L556.60,322.49 L557.13,322.46 L557.65,322.43 L558.18,322.41 L558.70,322.39 L559.23,322.37 L559.76,322.35 L560.28,322.34 L560.81,322.33 L561.33,322.32 L561.86,322.32 L562.38,322.32 L562.91,322.32 L563.43,322.33 L563.96,322.34 L564.48,322.35 L565.01,322.36 L565.53,322.38 L566.06,322.40 L566.58,322.43 L567.11,322.45 L567.63,322.49 L568.16,322.52 L568.69,322.56 L569.21,322.60 L569.74,322.64 L570.26,322.69 L570.79,322.74 L571.31,322.80 L571.84,322.86 L572.36,322.92 L572.89,322.99 L573.41,323.06 L573.94,323.13 L574.46,323.21 L574.99,323.29 L575.51,323.38 L576.04,323.47 L576.57,323.56 L577.09,323.66 L577.62,323.76 L578.14,323.87 L578.67,323.98 L579.19,324.10 L579.72,324.22 L580.24,324.34 L580.77,324.47 L581.29,324.60 L581.82,324.74 L582.34,324.88 L582.87,325.02 L583.39,325.18 L583.92,325.33 L584.44,325.49 L584.97,325.66 L585.50,325.83 L586.02,326.00 L586.55,326.18 L587.07,326.36 L587.60,326.55 L588.12,326.75 L588.65,326.95 L589.17,327.15 L589.70,327.36 L590.22,327.58 L590.75,327.80 L591.27,328.02 L591.80,328.25 L592.32,328.49 L592.85,328.73 L593.38,328.98 L593.90,329.23 L594.43,329.49 L594.95,329.75 L595.48,330.01 L596.00,330.28 L596.53,330.55 L597.05,330.83 L597.58,331.11 L598.10,331.39 L598.63,331.68 L599.15,331.96 L599.68,332.25 L600.20,332.55 L600.73,332.84 L601.25,333.13 L601.78,333.43 L602.31,333.73 L602.83,334.03 L603.36,334.33 L603.88,334.63 L604.41,334.93 L604.93,335.23 L605.46,335.53 L605.98,335.83 L606.51,336.13 L607.03,336.43 L607.56,336.72 L608.08,337.02 L608.61,337.31 L609.13,337.60 L609.66,337.89 L610.19,338.18 L610.71,338.47 L611.24,338.75 L611.76,339.03 L612.29,339.30 L612.81,339.58 L613.34,339.85 L613.86,340.11 L614.39,340.37 L614.91,340.63 L615.44,340.88 L615.96,341.13 L616.49,341.37 L617.01,341.61 L617.54,341.84 L618.06,342.07 L618.59,342.29 L619.12,342.51 L619.64,342.73 L620.17,342.94 L620.69,343.14 L621.22,343.35 L621.74,343.54 L622.27,343.74 L622.79,343.93 L623.32,344.11 L623.84,344.29 L624.37,344.47 L624.89,344.64 L625.42,344.81 L625.94,344.98 L626.47,345.14 L627.00,345.30 L627.52,345.45 L628.05,345.60 L628.57,345.75 L629.10,345.89 L629.62,346.03 L630.15,346.16 L630.67,346.30 L631.20,346.42 L631.72,346.55 L632.25,346.67 L632.77,346.79 L633.30,346.90 L633.82,347.01 L634.35,347.12 L634.87,347.22 L635.40,347.33 L635.93,347.42 L636.45,347.52 L636.98,347.61 L637.50,347.70 L638.03,347.78 L638.55,347.87 L639.08,347.95 L639.60,348.02 L640.13,348.09 L640.65,348.17 L641.18,348.23 L641.70,348.30 L642.23,348.36 L642.75,348.42 L643.28,348.48 L643.81,348.53 L644.33,348.58 L644.86,348.63 L645.38,348.68 L645.91,348.72 L646.43,348.76 L646.96,348.80 L647.48,348.84 L648.01,348.87 L648.53,348.91 L649.06,348.94 L649.58,348.96 L650.11,348.99 L650.63,349.01 L651.16,349.03 L651.68,349.05 L652.21,349.07 L652.74,349.09 L653.26,349.10 L653.79,349.11 L654.31,349.12 L654.84,349.13 L655.36,349.13 L655.89,349.14 L656.41,349.14 L656.94,349.14 L657.46,349.14 L657.99,349.14 L658.51,349.13 L659.04,349.13 L659.56,349.12 L660.09,349.11 L660.62,349.10 L661.14,349.09 L661.67,349.08 L662.19,349.06 L662.72,349.05 L663.24,349.03 L663.77,349.01 L664.29,349.00 L664.82,348.98 L665.34,348.95 L665.87,348.93 L666.39,348.91 L666.92,348.89 L667.44,348.86 L667.97,348.83 L668.49,348.81 L669.02,348.78 L669.55,348.75 L670.07,348.72 L670.60,348.69 L671.12,348.66 L671.65,348.63 L672.17,348.60 L672.70,348.57 L673.22,348.54 L673.75,348.50 L674.27,348.47 L674.80,348.44 L675.32,348.40 L675.85,348.37 L676.37,348.34 L676.90,348.30" fill="none" stroke="#5a5ad4" stroke-width="1.05" stroke-linejoin="round" opacity="0.9"/>
<path d="M395.6,393.3 L467.3,393.3" fill="none" stroke="#6a40c8" stroke-width="1.2" stroke-linejoin="round"/>
<g font-size="11.6" fill="#1a1a1a"><text x="395.70" y="407.80" text-anchor="middle">0</text><text x="423.83" y="407.80" text-anchor="middle">2</text><text x="451.96" y="407.80" text-anchor="middle">4</text><text x="480.09" y="407.80" text-anchor="middle">6</text><text x="508.22" y="407.80" text-anchor="middle">8</text><text x="536.35" y="407.80" text-anchor="middle">10</text><text x="564.48" y="407.80" text-anchor="middle">12</text><text x="592.61" y="407.80" text-anchor="middle">14</text><text x="620.74" y="407.80" text-anchor="middle">16</text><text x="648.87" y="407.80" text-anchor="middle">18</text><text x="677.00" y="407.80" text-anchor="middle">20</text><text x="392.10" y="398.70" text-anchor="end">0</text><text x="392.10" y="336.22" text-anchor="end">10</text><text x="392.10" y="273.75" text-anchor="end">20</text></g>
<text x="536.35" y="427.80" text-anchor="middle" font-size="11.6" fill="#1a1a1a">Time (Week)</text>
<text transform="translate(366.90,331.02) rotate(-90)" text-anchor="middle" font-size="11.6" fill="#1a1a1a">hours/Week</text>
<text x="530.65" y="256.95" text-anchor="middle" font-size="14.9" fill="#1a1a1a">AA Workweek</text>
<g font-size="11.25" fill="#1a1a1a"><line x1="356.70" y1="442.80" x2="381.30" y2="442.80" stroke="#2a2aff" stroke-width="2"/><line x1="356.70" y1="456.90" x2="381.30" y2="456.90" stroke="#ff3c3c" stroke-width="2"/><line x1="526.20" y1="442.80" x2="550.70" y2="442.80" stroke="#3cb43c" stroke-width="2"/><text x="392.50" y="447.00">scenario 1</text><text x="392.50" y="461.10">scenario 3a (high)</text><text x="562.30" y="447.00">scenario 3b (low)</text></g>
</svg>
</body></html>
